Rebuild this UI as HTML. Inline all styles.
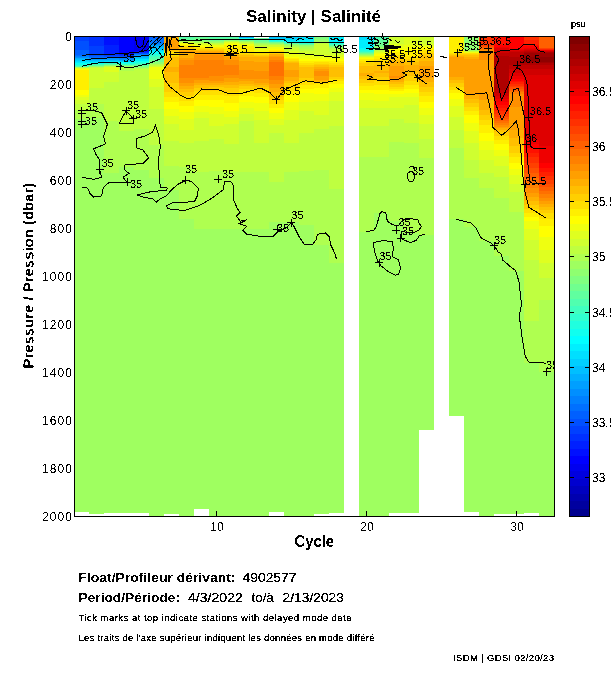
<!DOCTYPE html>
<html><head><meta charset="utf-8">
<style>
html,body{margin:0;padding:0;background:#fff;width:611px;height:675px;overflow:hidden}
svg{display:block}
text{font-family:"Liberation Sans",sans-serif;fill:#000;filter:url(#bin)}
.t12{font-size:12px} .t12 text, text.t12{filter:url(#bin2)}
.t9{font-size:9px}
.lab{font-size:11px} .lab text{filter:url(#bin2)}
.b{font-weight:bold;filter:url(#bin2)}
</style></head><body>
<svg width="611" height="675" viewBox="0 0 611 675">
<defs><filter id="bin" x="-5%" y="-5%" width="110%" height="110%"><feComponentTransfer><feFuncA type="discrete" tableValues="0 1 1"/></feComponentTransfer></filter><filter id="bin2" x="-5%" y="-5%" width="110%" height="110%"><feComponentTransfer><feFuncA type="discrete" tableValues="0 1"/></feComponentTransfer></filter></defs>
<rect width="611" height="675" fill="#fff"/>
<text x="246" y="22" textLength="135" lengthAdjust="spacingAndGlyphs" class="b" style="font-size:17px">Salinity | Salinité</text>
<g shape-rendering="crispEdges">
<rect x="74.0" y="36.0" width="15.0" height="5.0" fill="#0040ff"/>
<rect x="74.0" y="41.0" width="15.0" height="9.0" fill="#0050ff"/>
<rect x="74.0" y="50.0" width="15.0" height="5.0" fill="#0060ff"/>
<rect x="74.0" y="55.0" width="15.0" height="1.0" fill="#0070ff"/>
<rect x="74.0" y="56.0" width="15.0" height="1.0" fill="#0080ff"/>
<rect x="74.0" y="57.0" width="15.0" height="1.0" fill="#008fff"/>
<rect x="74.0" y="58.0" width="15.0" height="1.0" fill="#00afff"/>
<rect x="74.0" y="59.0" width="15.0" height="1.0" fill="#00bfff"/>
<rect x="74.0" y="60.0" width="15.0" height="1.0" fill="#00cfff"/>
<rect x="74.0" y="61.0" width="15.0" height="1.0" fill="#00dfff"/>
<rect x="74.0" y="62.0" width="15.0" height="1.0" fill="#00efff"/>
<rect x="74.0" y="63.0" width="15.0" height="2.0" fill="#10ffef"/>
<rect x="74.0" y="65.0" width="15.0" height="1.0" fill="#30ffcf"/>
<rect x="74.0" y="66.0" width="15.0" height="1.0" fill="#50ffaf"/>
<rect x="74.0" y="67.0" width="15.0" height="1.0" fill="#afff50"/>
<rect x="74.0" y="68.0" width="15.0" height="1.0" fill="#dfff20"/>
<rect x="74.0" y="69.0" width="15.0" height="1.0" fill="#ffff00"/>
<rect x="74.0" y="70.0" width="15.0" height="20.0" fill="#ffef00"/>
<rect x="74.0" y="90.0" width="15.0" height="5.0" fill="#ffff00"/>
<rect x="74.0" y="95.0" width="15.0" height="2.0" fill="#efff10"/>
<rect x="74.0" y="97.0" width="15.0" height="3.0" fill="#dfff20"/>
<rect x="74.0" y="100.0" width="15.0" height="4.0" fill="#cfff30"/>
<rect x="74.0" y="104.0" width="15.0" height="6.0" fill="#bfff40"/>
<rect x="74.0" y="110.0" width="15.0" height="9.0" fill="#afff50"/>
<rect x="74.0" y="119.0" width="15.0" height="393.0" fill="#9fff60"/>
<rect x="89.0" y="36.0" width="15.0" height="10.0" fill="#0030ff"/>
<rect x="89.0" y="46.0" width="15.0" height="9.0" fill="#0040ff"/>
<rect x="89.0" y="55.0" width="15.0" height="1.0" fill="#0050ff"/>
<rect x="89.0" y="56.0" width="15.0" height="1.0" fill="#0060ff"/>
<rect x="89.0" y="57.0" width="15.0" height="1.0" fill="#0070ff"/>
<rect x="89.0" y="58.0" width="15.0" height="1.0" fill="#008fff"/>
<rect x="89.0" y="59.0" width="15.0" height="1.0" fill="#009fff"/>
<rect x="89.0" y="60.0" width="15.0" height="1.0" fill="#00bfff"/>
<rect x="89.0" y="61.0" width="15.0" height="1.0" fill="#00cfff"/>
<rect x="89.0" y="62.0" width="15.0" height="1.0" fill="#00efff"/>
<rect x="89.0" y="63.0" width="15.0" height="1.0" fill="#10ffef"/>
<rect x="89.0" y="64.0" width="15.0" height="1.0" fill="#40ffbf"/>
<rect x="89.0" y="65.0" width="15.0" height="1.0" fill="#60ff9f"/>
<rect x="89.0" y="66.0" width="15.0" height="1.0" fill="#8fff70"/>
<rect x="89.0" y="67.0" width="15.0" height="1.0" fill="#bfff40"/>
<rect x="89.0" y="68.0" width="15.0" height="20.0" fill="#cfff30"/>
<rect x="89.0" y="88.0" width="15.0" height="16.0" fill="#bfff40"/>
<rect x="89.0" y="104.0" width="15.0" height="14.0" fill="#afff50"/>
<rect x="89.0" y="118.0" width="15.0" height="396.0" fill="#9fff60"/>
<rect x="104.0" y="36.0" width="15.0" height="9.0" fill="#0010ff"/>
<rect x="104.0" y="45.0" width="15.0" height="9.0" fill="#0020ff"/>
<rect x="104.0" y="54.0" width="15.0" height="1.0" fill="#0030ff"/>
<rect x="104.0" y="55.0" width="15.0" height="1.0" fill="#0040ff"/>
<rect x="104.0" y="56.0" width="15.0" height="1.0" fill="#0050ff"/>
<rect x="104.0" y="57.0" width="15.0" height="1.0" fill="#0070ff"/>
<rect x="104.0" y="58.0" width="15.0" height="1.0" fill="#008fff"/>
<rect x="104.0" y="59.0" width="15.0" height="1.0" fill="#009fff"/>
<rect x="104.0" y="60.0" width="15.0" height="1.0" fill="#00bfff"/>
<rect x="104.0" y="61.0" width="15.0" height="1.0" fill="#00dfff"/>
<rect x="104.0" y="62.0" width="15.0" height="1.0" fill="#00ffff"/>
<rect x="104.0" y="63.0" width="15.0" height="1.0" fill="#30ffcf"/>
<rect x="104.0" y="64.0" width="15.0" height="1.0" fill="#60ff9f"/>
<rect x="104.0" y="65.0" width="15.0" height="1.0" fill="#8fff70"/>
<rect x="104.0" y="66.0" width="15.0" height="1.0" fill="#bfff40"/>
<rect x="104.0" y="67.0" width="15.0" height="5.0" fill="#dfff20"/>
<rect x="104.0" y="72.0" width="15.0" height="10.0" fill="#cfff30"/>
<rect x="104.0" y="82.0" width="15.0" height="39.0" fill="#bfff40"/>
<rect x="104.0" y="121.0" width="15.0" height="52.0" fill="#afff50"/>
<rect x="104.0" y="173.0" width="15.0" height="340.0" fill="#9fff60"/>
<rect x="119.0" y="36.0" width="15.0" height="17.0" fill="#0000ff"/>
<rect x="119.0" y="53.0" width="15.0" height="1.0" fill="#0010ff"/>
<rect x="119.0" y="54.0" width="15.0" height="1.0" fill="#0020ff"/>
<rect x="119.0" y="55.0" width="15.0" height="1.0" fill="#0030ff"/>
<rect x="119.0" y="56.0" width="15.0" height="1.0" fill="#0050ff"/>
<rect x="119.0" y="57.0" width="15.0" height="1.0" fill="#0060ff"/>
<rect x="119.0" y="58.0" width="15.0" height="1.0" fill="#0080ff"/>
<rect x="119.0" y="59.0" width="15.0" height="1.0" fill="#008fff"/>
<rect x="119.0" y="60.0" width="15.0" height="1.0" fill="#00afff"/>
<rect x="119.0" y="61.0" width="15.0" height="1.0" fill="#00cfff"/>
<rect x="119.0" y="62.0" width="15.0" height="1.0" fill="#00ffff"/>
<rect x="119.0" y="63.0" width="15.0" height="1.0" fill="#20ffdf"/>
<rect x="119.0" y="64.0" width="15.0" height="1.0" fill="#40ffbf"/>
<rect x="119.0" y="65.0" width="15.0" height="1.0" fill="#70ff8f"/>
<rect x="119.0" y="66.0" width="15.0" height="1.0" fill="#9fff60"/>
<rect x="119.0" y="67.0" width="15.0" height="4.0" fill="#afff50"/>
<rect x="119.0" y="71.0" width="15.0" height="60.0" fill="#bfff40"/>
<rect x="119.0" y="131.0" width="15.0" height="36.0" fill="#afff50"/>
<rect x="119.0" y="167.0" width="15.0" height="346.0" fill="#9fff60"/>
<rect x="134.0" y="36.0" width="15.0" height="15.0" fill="#0000ef"/>
<rect x="134.0" y="51.0" width="15.0" height="1.0" fill="#0010ff"/>
<rect x="134.0" y="52.0" width="15.0" height="1.0" fill="#0030ff"/>
<rect x="134.0" y="53.0" width="15.0" height="1.0" fill="#0050ff"/>
<rect x="134.0" y="54.0" width="15.0" height="1.0" fill="#0080ff"/>
<rect x="134.0" y="55.0" width="15.0" height="1.0" fill="#009fff"/>
<rect x="134.0" y="56.0" width="15.0" height="1.0" fill="#00afff"/>
<rect x="134.0" y="57.0" width="15.0" height="1.0" fill="#00bfff"/>
<rect x="134.0" y="58.0" width="15.0" height="1.0" fill="#00cfff"/>
<rect x="134.0" y="59.0" width="15.0" height="2.0" fill="#00efff"/>
<rect x="134.0" y="61.0" width="15.0" height="1.0" fill="#10ffef"/>
<rect x="134.0" y="62.0" width="15.0" height="1.0" fill="#20ffdf"/>
<rect x="134.0" y="63.0" width="15.0" height="1.0" fill="#30ffcf"/>
<rect x="134.0" y="64.0" width="15.0" height="1.0" fill="#50ffaf"/>
<rect x="134.0" y="65.0" width="15.0" height="1.0" fill="#60ff9f"/>
<rect x="134.0" y="66.0" width="15.0" height="1.0" fill="#80ff80"/>
<rect x="134.0" y="67.0" width="15.0" height="1.0" fill="#8fff70"/>
<rect x="134.0" y="68.0" width="15.0" height="1.0" fill="#afff50"/>
<rect x="134.0" y="69.0" width="15.0" height="60.0" fill="#bfff40"/>
<rect x="134.0" y="129.0" width="15.0" height="41.0" fill="#afff50"/>
<rect x="134.0" y="170.0" width="15.0" height="343.0" fill="#9fff60"/>
<rect x="149.0" y="36.0" width="15.0" height="3.0" fill="#0060ff"/>
<rect x="149.0" y="39.0" width="15.0" height="4.0" fill="#0070ff"/>
<rect x="149.0" y="43.0" width="15.0" height="1.0" fill="#0080ff"/>
<rect x="149.0" y="44.0" width="15.0" height="1.0" fill="#008fff"/>
<rect x="149.0" y="45.0" width="15.0" height="1.0" fill="#009fff"/>
<rect x="149.0" y="46.0" width="15.0" height="1.0" fill="#00afff"/>
<rect x="149.0" y="47.0" width="15.0" height="2.0" fill="#00bfff"/>
<rect x="149.0" y="49.0" width="15.0" height="1.0" fill="#00cfff"/>
<rect x="149.0" y="50.0" width="15.0" height="1.0" fill="#00dfff"/>
<rect x="149.0" y="51.0" width="15.0" height="1.0" fill="#00efff"/>
<rect x="149.0" y="52.0" width="15.0" height="1.0" fill="#00ffff"/>
<rect x="149.0" y="53.0" width="15.0" height="1.0" fill="#10ffef"/>
<rect x="149.0" y="54.0" width="15.0" height="1.0" fill="#20ffdf"/>
<rect x="149.0" y="55.0" width="15.0" height="1.0" fill="#30ffcf"/>
<rect x="149.0" y="56.0" width="15.0" height="1.0" fill="#40ffbf"/>
<rect x="149.0" y="57.0" width="15.0" height="2.0" fill="#50ffaf"/>
<rect x="149.0" y="59.0" width="15.0" height="1.0" fill="#60ff9f"/>
<rect x="149.0" y="60.0" width="15.0" height="2.0" fill="#70ff8f"/>
<rect x="149.0" y="62.0" width="15.0" height="2.0" fill="#8fff70"/>
<rect x="149.0" y="64.0" width="15.0" height="1.0" fill="#afff50"/>
<rect x="149.0" y="65.0" width="15.0" height="1.0" fill="#bfff40"/>
<rect x="149.0" y="66.0" width="15.0" height="1.0" fill="#cfff30"/>
<rect x="149.0" y="67.0" width="15.0" height="12.0" fill="#efff10"/>
<rect x="149.0" y="79.0" width="15.0" height="8.0" fill="#dfff20"/>
<rect x="149.0" y="87.0" width="15.0" height="22.0" fill="#cfff30"/>
<rect x="149.0" y="109.0" width="15.0" height="36.0" fill="#bfff40"/>
<rect x="149.0" y="145.0" width="15.0" height="33.0" fill="#afff50"/>
<rect x="149.0" y="178.0" width="15.0" height="338.0" fill="#9fff60"/>
<rect x="164.0" y="36.0" width="15.0" height="4.0" fill="#ffaf00"/>
<rect x="164.0" y="40.0" width="15.0" height="9.0" fill="#ff9f00"/>
<rect x="164.0" y="49.0" width="15.0" height="1.0" fill="#ffaf00"/>
<rect x="164.0" y="50.0" width="15.0" height="1.0" fill="#ffbf00"/>
<rect x="164.0" y="51.0" width="15.0" height="1.0" fill="#ffcf00"/>
<rect x="164.0" y="52.0" width="15.0" height="4.0" fill="#ffdf00"/>
<rect x="164.0" y="56.0" width="15.0" height="1.0" fill="#ffcf00"/>
<rect x="164.0" y="57.0" width="15.0" height="10.0" fill="#ffbf00"/>
<rect x="164.0" y="67.0" width="15.0" height="5.0" fill="#ffaf00"/>
<rect x="164.0" y="72.0" width="15.0" height="11.0" fill="#ffbf00"/>
<rect x="164.0" y="83.0" width="15.0" height="9.0" fill="#ffcf00"/>
<rect x="164.0" y="92.0" width="15.0" height="5.0" fill="#ffdf00"/>
<rect x="164.0" y="97.0" width="15.0" height="5.0" fill="#ffef00"/>
<rect x="164.0" y="102.0" width="15.0" height="7.0" fill="#ffff00"/>
<rect x="164.0" y="109.0" width="15.0" height="7.0" fill="#efff10"/>
<rect x="164.0" y="116.0" width="15.0" height="8.0" fill="#dfff20"/>
<rect x="164.0" y="124.0" width="15.0" height="17.0" fill="#cfff30"/>
<rect x="164.0" y="141.0" width="15.0" height="25.0" fill="#bfff40"/>
<rect x="164.0" y="166.0" width="15.0" height="24.0" fill="#afff50"/>
<rect x="164.0" y="190.0" width="15.0" height="324.0" fill="#9fff60"/>
<rect x="179.0" y="36.0" width="15.0" height="2.0" fill="#50ffaf"/>
<rect x="179.0" y="38.0" width="15.0" height="2.0" fill="#60ff9f"/>
<rect x="179.0" y="40.0" width="15.0" height="1.0" fill="#70ff8f"/>
<rect x="179.0" y="41.0" width="15.0" height="1.0" fill="#afff50"/>
<rect x="179.0" y="42.0" width="15.0" height="1.0" fill="#cfff30"/>
<rect x="179.0" y="43.0" width="15.0" height="1.0" fill="#efff10"/>
<rect x="179.0" y="44.0" width="15.0" height="1.0" fill="#ffff00"/>
<rect x="179.0" y="45.0" width="15.0" height="1.0" fill="#ffef00"/>
<rect x="179.0" y="46.0" width="15.0" height="1.0" fill="#ffdf00"/>
<rect x="179.0" y="47.0" width="15.0" height="2.0" fill="#ffcf00"/>
<rect x="179.0" y="49.0" width="15.0" height="2.0" fill="#ffaf00"/>
<rect x="179.0" y="51.0" width="15.0" height="2.0" fill="#ff9f00"/>
<rect x="179.0" y="53.0" width="15.0" height="5.0" fill="#ffaf00"/>
<rect x="179.0" y="58.0" width="15.0" height="2.0" fill="#ff9f00"/>
<rect x="179.0" y="60.0" width="15.0" height="5.0" fill="#ff8f00"/>
<rect x="179.0" y="65.0" width="15.0" height="13.0" fill="#ff8000"/>
<rect x="179.0" y="78.0" width="15.0" height="5.0" fill="#ff8f00"/>
<rect x="179.0" y="83.0" width="15.0" height="3.0" fill="#ff9f00"/>
<rect x="179.0" y="86.0" width="15.0" height="3.0" fill="#ffaf00"/>
<rect x="179.0" y="89.0" width="15.0" height="3.0" fill="#ffbf00"/>
<rect x="179.0" y="92.0" width="15.0" height="4.0" fill="#ffcf00"/>
<rect x="179.0" y="96.0" width="15.0" height="5.0" fill="#ffdf00"/>
<rect x="179.0" y="101.0" width="15.0" height="5.0" fill="#ffef00"/>
<rect x="179.0" y="106.0" width="15.0" height="6.0" fill="#ffff00"/>
<rect x="179.0" y="112.0" width="15.0" height="7.0" fill="#efff10"/>
<rect x="179.0" y="119.0" width="15.0" height="11.0" fill="#dfff20"/>
<rect x="179.0" y="130.0" width="15.0" height="13.0" fill="#cfff30"/>
<rect x="179.0" y="143.0" width="15.0" height="24.0" fill="#bfff40"/>
<rect x="179.0" y="167.0" width="15.0" height="52.0" fill="#afff50"/>
<rect x="179.0" y="219.0" width="15.0" height="297.0" fill="#9fff60"/>
<rect x="194.0" y="36.0" width="15.0" height="2.0" fill="#60ff9f"/>
<rect x="194.0" y="38.0" width="15.0" height="2.0" fill="#70ff8f"/>
<rect x="194.0" y="40.0" width="15.0" height="1.0" fill="#80ff80"/>
<rect x="194.0" y="41.0" width="15.0" height="1.0" fill="#9fff60"/>
<rect x="194.0" y="42.0" width="15.0" height="1.0" fill="#afff50"/>
<rect x="194.0" y="43.0" width="15.0" height="1.0" fill="#cfff30"/>
<rect x="194.0" y="44.0" width="15.0" height="1.0" fill="#dfff20"/>
<rect x="194.0" y="45.0" width="15.0" height="1.0" fill="#efff10"/>
<rect x="194.0" y="46.0" width="15.0" height="1.0" fill="#ffff00"/>
<rect x="194.0" y="47.0" width="15.0" height="1.0" fill="#ffef00"/>
<rect x="194.0" y="48.0" width="15.0" height="1.0" fill="#ffdf00"/>
<rect x="194.0" y="49.0" width="15.0" height="1.0" fill="#ffcf00"/>
<rect x="194.0" y="50.0" width="15.0" height="1.0" fill="#ffbf00"/>
<rect x="194.0" y="51.0" width="15.0" height="1.0" fill="#ffaf00"/>
<rect x="194.0" y="52.0" width="15.0" height="3.0" fill="#ff9f00"/>
<rect x="194.0" y="55.0" width="15.0" height="5.0" fill="#ff8f00"/>
<rect x="194.0" y="60.0" width="15.0" height="18.0" fill="#ff8000"/>
<rect x="194.0" y="78.0" width="15.0" height="2.0" fill="#ff8f00"/>
<rect x="194.0" y="80.0" width="15.0" height="3.0" fill="#ff9f00"/>
<rect x="194.0" y="83.0" width="15.0" height="2.0" fill="#ffaf00"/>
<rect x="194.0" y="85.0" width="15.0" height="3.0" fill="#ffbf00"/>
<rect x="194.0" y="88.0" width="15.0" height="3.0" fill="#ffcf00"/>
<rect x="194.0" y="91.0" width="15.0" height="4.0" fill="#ffdf00"/>
<rect x="194.0" y="95.0" width="15.0" height="5.0" fill="#ffef00"/>
<rect x="194.0" y="100.0" width="15.0" height="6.0" fill="#ffff00"/>
<rect x="194.0" y="106.0" width="15.0" height="6.0" fill="#efff10"/>
<rect x="194.0" y="112.0" width="15.0" height="6.0" fill="#dfff20"/>
<rect x="194.0" y="118.0" width="15.0" height="23.0" fill="#cfff30"/>
<rect x="194.0" y="141.0" width="15.0" height="31.0" fill="#bfff40"/>
<rect x="194.0" y="172.0" width="15.0" height="57.0" fill="#afff50"/>
<rect x="194.0" y="229.0" width="15.0" height="280.0" fill="#9fff60"/>
<rect x="209.0" y="36.0" width="15.0" height="2.0" fill="#50ffaf"/>
<rect x="209.0" y="38.0" width="15.0" height="2.0" fill="#60ff9f"/>
<rect x="209.0" y="40.0" width="15.0" height="1.0" fill="#70ff8f"/>
<rect x="209.0" y="41.0" width="15.0" height="1.0" fill="#8fff70"/>
<rect x="209.0" y="42.0" width="15.0" height="1.0" fill="#9fff60"/>
<rect x="209.0" y="43.0" width="15.0" height="1.0" fill="#bfff40"/>
<rect x="209.0" y="44.0" width="15.0" height="1.0" fill="#cfff30"/>
<rect x="209.0" y="45.0" width="15.0" height="2.0" fill="#efff10"/>
<rect x="209.0" y="47.0" width="15.0" height="1.0" fill="#ffef00"/>
<rect x="209.0" y="48.0" width="15.0" height="1.0" fill="#ffdf00"/>
<rect x="209.0" y="49.0" width="15.0" height="1.0" fill="#ffcf00"/>
<rect x="209.0" y="50.0" width="15.0" height="1.0" fill="#ffbf00"/>
<rect x="209.0" y="51.0" width="15.0" height="1.0" fill="#ffaf00"/>
<rect x="209.0" y="52.0" width="15.0" height="3.0" fill="#ff9f00"/>
<rect x="209.0" y="55.0" width="15.0" height="5.0" fill="#ff8f00"/>
<rect x="209.0" y="60.0" width="15.0" height="16.0" fill="#ff8000"/>
<rect x="209.0" y="76.0" width="15.0" height="5.0" fill="#ff8f00"/>
<rect x="209.0" y="81.0" width="15.0" height="2.0" fill="#ff9f00"/>
<rect x="209.0" y="83.0" width="15.0" height="2.0" fill="#ffaf00"/>
<rect x="209.0" y="85.0" width="15.0" height="2.0" fill="#ffbf00"/>
<rect x="209.0" y="87.0" width="15.0" height="4.0" fill="#ffcf00"/>
<rect x="209.0" y="91.0" width="15.0" height="4.0" fill="#ffdf00"/>
<rect x="209.0" y="95.0" width="15.0" height="5.0" fill="#ffef00"/>
<rect x="209.0" y="100.0" width="15.0" height="7.0" fill="#ffff00"/>
<rect x="209.0" y="107.0" width="15.0" height="7.0" fill="#efff10"/>
<rect x="209.0" y="114.0" width="15.0" height="12.0" fill="#dfff20"/>
<rect x="209.0" y="126.0" width="15.0" height="13.0" fill="#cfff30"/>
<rect x="209.0" y="139.0" width="15.0" height="32.0" fill="#bfff40"/>
<rect x="209.0" y="171.0" width="15.0" height="58.0" fill="#afff50"/>
<rect x="209.0" y="229.0" width="15.0" height="287.0" fill="#9fff60"/>
<rect x="224.0" y="36.0" width="15.0" height="2.0" fill="#50ffaf"/>
<rect x="224.0" y="38.0" width="15.0" height="1.0" fill="#60ff9f"/>
<rect x="224.0" y="39.0" width="15.0" height="1.0" fill="#70ff8f"/>
<rect x="224.0" y="40.0" width="15.0" height="1.0" fill="#8fff70"/>
<rect x="224.0" y="41.0" width="15.0" height="1.0" fill="#bfff40"/>
<rect x="224.0" y="42.0" width="15.0" height="1.0" fill="#dfff20"/>
<rect x="224.0" y="43.0" width="15.0" height="1.0" fill="#efff10"/>
<rect x="224.0" y="44.0" width="15.0" height="1.0" fill="#ffff00"/>
<rect x="224.0" y="45.0" width="15.0" height="4.0" fill="#ffef00"/>
<rect x="224.0" y="49.0" width="15.0" height="3.0" fill="#ffdf00"/>
<rect x="224.0" y="52.0" width="15.0" height="2.0" fill="#ffcf00"/>
<rect x="224.0" y="54.0" width="15.0" height="1.0" fill="#ffbf00"/>
<rect x="224.0" y="55.0" width="15.0" height="2.0" fill="#ffaf00"/>
<rect x="224.0" y="57.0" width="15.0" height="3.0" fill="#ff9f00"/>
<rect x="224.0" y="60.0" width="15.0" height="5.0" fill="#ff8f00"/>
<rect x="224.0" y="65.0" width="15.0" height="10.0" fill="#ff8000"/>
<rect x="224.0" y="75.0" width="15.0" height="3.0" fill="#ff8f00"/>
<rect x="224.0" y="78.0" width="15.0" height="4.0" fill="#ff9f00"/>
<rect x="224.0" y="82.0" width="15.0" height="3.0" fill="#ffaf00"/>
<rect x="224.0" y="85.0" width="15.0" height="3.0" fill="#ffbf00"/>
<rect x="224.0" y="88.0" width="15.0" height="4.0" fill="#ffcf00"/>
<rect x="224.0" y="92.0" width="15.0" height="4.0" fill="#ffdf00"/>
<rect x="224.0" y="96.0" width="15.0" height="7.0" fill="#ffef00"/>
<rect x="224.0" y="103.0" width="15.0" height="8.0" fill="#ffff00"/>
<rect x="224.0" y="111.0" width="15.0" height="6.0" fill="#efff10"/>
<rect x="224.0" y="117.0" width="15.0" height="7.0" fill="#dfff20"/>
<rect x="224.0" y="124.0" width="15.0" height="20.0" fill="#cfff30"/>
<rect x="224.0" y="144.0" width="15.0" height="28.0" fill="#bfff40"/>
<rect x="224.0" y="172.0" width="15.0" height="57.0" fill="#afff50"/>
<rect x="224.0" y="229.0" width="15.0" height="287.0" fill="#9fff60"/>
<rect x="239.0" y="36.0" width="15.0" height="1.0" fill="#0070ff"/>
<rect x="239.0" y="37.0" width="15.0" height="1.0" fill="#00afff"/>
<rect x="239.0" y="38.0" width="15.0" height="1.0" fill="#10ffef"/>
<rect x="239.0" y="39.0" width="15.0" height="1.0" fill="#50ffaf"/>
<rect x="239.0" y="40.0" width="15.0" height="1.0" fill="#70ff8f"/>
<rect x="239.0" y="41.0" width="15.0" height="1.0" fill="#9fff60"/>
<rect x="239.0" y="42.0" width="15.0" height="1.0" fill="#bfff40"/>
<rect x="239.0" y="43.0" width="15.0" height="1.0" fill="#cfff30"/>
<rect x="239.0" y="44.0" width="15.0" height="2.0" fill="#efff10"/>
<rect x="239.0" y="46.0" width="15.0" height="7.0" fill="#ffef00"/>
<rect x="239.0" y="53.0" width="15.0" height="1.0" fill="#ffdf00"/>
<rect x="239.0" y="54.0" width="15.0" height="1.0" fill="#ffcf00"/>
<rect x="239.0" y="55.0" width="15.0" height="2.0" fill="#ffbf00"/>
<rect x="239.0" y="57.0" width="15.0" height="4.0" fill="#ffaf00"/>
<rect x="239.0" y="61.0" width="15.0" height="9.0" fill="#ff9f00"/>
<rect x="239.0" y="70.0" width="15.0" height="9.0" fill="#ff8f00"/>
<rect x="239.0" y="79.0" width="15.0" height="2.0" fill="#ff9f00"/>
<rect x="239.0" y="81.0" width="15.0" height="3.0" fill="#ffaf00"/>
<rect x="239.0" y="84.0" width="15.0" height="2.0" fill="#ffbf00"/>
<rect x="239.0" y="86.0" width="15.0" height="3.0" fill="#ffcf00"/>
<rect x="239.0" y="89.0" width="15.0" height="3.0" fill="#ffdf00"/>
<rect x="239.0" y="92.0" width="15.0" height="4.0" fill="#ffef00"/>
<rect x="239.0" y="96.0" width="15.0" height="6.0" fill="#ffff00"/>
<rect x="239.0" y="102.0" width="15.0" height="6.0" fill="#efff10"/>
<rect x="239.0" y="108.0" width="15.0" height="6.0" fill="#dfff20"/>
<rect x="239.0" y="114.0" width="15.0" height="7.0" fill="#cfff30"/>
<rect x="239.0" y="121.0" width="15.0" height="51.0" fill="#bfff40"/>
<rect x="239.0" y="172.0" width="15.0" height="57.0" fill="#afff50"/>
<rect x="239.0" y="229.0" width="15.0" height="287.0" fill="#9fff60"/>
<rect x="254.0" y="36.0" width="15.0" height="5.0" fill="#60ff9f"/>
<rect x="254.0" y="41.0" width="15.0" height="1.0" fill="#70ff8f"/>
<rect x="254.0" y="42.0" width="15.0" height="1.0" fill="#80ff80"/>
<rect x="254.0" y="43.0" width="15.0" height="1.0" fill="#9fff60"/>
<rect x="254.0" y="44.0" width="15.0" height="1.0" fill="#afff50"/>
<rect x="254.0" y="45.0" width="15.0" height="1.0" fill="#bfff40"/>
<rect x="254.0" y="46.0" width="15.0" height="2.0" fill="#cfff30"/>
<rect x="254.0" y="48.0" width="15.0" height="1.0" fill="#dfff20"/>
<rect x="254.0" y="49.0" width="15.0" height="2.0" fill="#efff10"/>
<rect x="254.0" y="51.0" width="15.0" height="1.0" fill="#ffff00"/>
<rect x="254.0" y="52.0" width="15.0" height="1.0" fill="#ffef00"/>
<rect x="254.0" y="53.0" width="15.0" height="2.0" fill="#ffdf00"/>
<rect x="254.0" y="55.0" width="15.0" height="1.0" fill="#ffcf00"/>
<rect x="254.0" y="56.0" width="15.0" height="1.0" fill="#ffbf00"/>
<rect x="254.0" y="57.0" width="15.0" height="5.0" fill="#ffaf00"/>
<rect x="254.0" y="62.0" width="15.0" height="9.0" fill="#ff9f00"/>
<rect x="254.0" y="71.0" width="15.0" height="8.0" fill="#ff8f00"/>
<rect x="254.0" y="79.0" width="15.0" height="4.0" fill="#ff9f00"/>
<rect x="254.0" y="83.0" width="15.0" height="2.0" fill="#ffaf00"/>
<rect x="254.0" y="85.0" width="15.0" height="2.0" fill="#ffbf00"/>
<rect x="254.0" y="87.0" width="15.0" height="2.0" fill="#ffcf00"/>
<rect x="254.0" y="89.0" width="15.0" height="4.0" fill="#ffdf00"/>
<rect x="254.0" y="93.0" width="15.0" height="4.0" fill="#ffef00"/>
<rect x="254.0" y="97.0" width="15.0" height="6.0" fill="#ffff00"/>
<rect x="254.0" y="103.0" width="15.0" height="8.0" fill="#efff10"/>
<rect x="254.0" y="111.0" width="15.0" height="9.0" fill="#dfff20"/>
<rect x="254.0" y="120.0" width="15.0" height="23.0" fill="#cfff30"/>
<rect x="254.0" y="143.0" width="15.0" height="29.0" fill="#bfff40"/>
<rect x="254.0" y="172.0" width="15.0" height="57.0" fill="#afff50"/>
<rect x="254.0" y="229.0" width="15.0" height="287.0" fill="#9fff60"/>
<rect x="269.0" y="36.0" width="15.0" height="1.0" fill="#009fff"/>
<rect x="269.0" y="37.0" width="15.0" height="1.0" fill="#00bfff"/>
<rect x="269.0" y="38.0" width="15.0" height="1.0" fill="#00cfff"/>
<rect x="269.0" y="39.0" width="15.0" height="1.0" fill="#00dfff"/>
<rect x="269.0" y="40.0" width="15.0" height="1.0" fill="#10ffef"/>
<rect x="269.0" y="41.0" width="15.0" height="1.0" fill="#30ffcf"/>
<rect x="269.0" y="42.0" width="15.0" height="1.0" fill="#70ff8f"/>
<rect x="269.0" y="43.0" width="15.0" height="1.0" fill="#8fff70"/>
<rect x="269.0" y="44.0" width="15.0" height="1.0" fill="#afff50"/>
<rect x="269.0" y="45.0" width="15.0" height="2.0" fill="#cfff30"/>
<rect x="269.0" y="47.0" width="15.0" height="2.0" fill="#efff10"/>
<rect x="269.0" y="49.0" width="15.0" height="1.0" fill="#ffff00"/>
<rect x="269.0" y="50.0" width="15.0" height="1.0" fill="#ffef00"/>
<rect x="269.0" y="51.0" width="15.0" height="1.0" fill="#ffdf00"/>
<rect x="269.0" y="52.0" width="15.0" height="2.0" fill="#ffcf00"/>
<rect x="269.0" y="54.0" width="15.0" height="2.0" fill="#ffaf00"/>
<rect x="269.0" y="56.0" width="15.0" height="1.0" fill="#ff9f00"/>
<rect x="269.0" y="57.0" width="15.0" height="3.0" fill="#ff8f00"/>
<rect x="269.0" y="60.0" width="15.0" height="2.0" fill="#ff8000"/>
<rect x="269.0" y="62.0" width="15.0" height="14.0" fill="#ff7000"/>
<rect x="269.0" y="76.0" width="15.0" height="4.0" fill="#ff8000"/>
<rect x="269.0" y="80.0" width="15.0" height="4.0" fill="#ff8f00"/>
<rect x="269.0" y="84.0" width="15.0" height="4.0" fill="#ff9f00"/>
<rect x="269.0" y="88.0" width="15.0" height="4.0" fill="#ffaf00"/>
<rect x="269.0" y="92.0" width="15.0" height="5.0" fill="#ffbf00"/>
<rect x="269.0" y="97.0" width="15.0" height="3.0" fill="#ffcf00"/>
<rect x="269.0" y="100.0" width="15.0" height="4.0" fill="#ffdf00"/>
<rect x="269.0" y="104.0" width="15.0" height="4.0" fill="#ffef00"/>
<rect x="269.0" y="108.0" width="15.0" height="5.0" fill="#ffff00"/>
<rect x="269.0" y="113.0" width="15.0" height="6.0" fill="#efff10"/>
<rect x="269.0" y="119.0" width="15.0" height="6.0" fill="#dfff20"/>
<rect x="269.0" y="125.0" width="15.0" height="8.0" fill="#cfff30"/>
<rect x="269.0" y="133.0" width="15.0" height="49.0" fill="#bfff40"/>
<rect x="269.0" y="182.0" width="15.0" height="40.0" fill="#afff50"/>
<rect x="269.0" y="222.0" width="15.0" height="290.0" fill="#9fff60"/>
<rect x="284.0" y="36.0" width="15.0" height="3.0" fill="#00cfff"/>
<rect x="284.0" y="39.0" width="15.0" height="2.0" fill="#00dfff"/>
<rect x="284.0" y="41.0" width="15.0" height="1.0" fill="#00efff"/>
<rect x="284.0" y="42.0" width="15.0" height="1.0" fill="#30ffcf"/>
<rect x="284.0" y="43.0" width="15.0" height="1.0" fill="#50ffaf"/>
<rect x="284.0" y="44.0" width="15.0" height="1.0" fill="#8fff70"/>
<rect x="284.0" y="45.0" width="15.0" height="1.0" fill="#9fff60"/>
<rect x="284.0" y="46.0" width="15.0" height="1.0" fill="#afff50"/>
<rect x="284.0" y="47.0" width="15.0" height="1.0" fill="#bfff40"/>
<rect x="284.0" y="48.0" width="15.0" height="3.0" fill="#cfff30"/>
<rect x="284.0" y="51.0" width="15.0" height="3.0" fill="#dfff20"/>
<rect x="284.0" y="54.0" width="15.0" height="3.0" fill="#efff10"/>
<rect x="284.0" y="57.0" width="15.0" height="1.0" fill="#ffff00"/>
<rect x="284.0" y="58.0" width="15.0" height="1.0" fill="#ffef00"/>
<rect x="284.0" y="59.0" width="15.0" height="2.0" fill="#ffdf00"/>
<rect x="284.0" y="61.0" width="15.0" height="1.0" fill="#ffcf00"/>
<rect x="284.0" y="62.0" width="15.0" height="1.0" fill="#ffbf00"/>
<rect x="284.0" y="63.0" width="15.0" height="7.0" fill="#ffaf00"/>
<rect x="284.0" y="70.0" width="15.0" height="7.0" fill="#ff9f00"/>
<rect x="284.0" y="77.0" width="15.0" height="4.0" fill="#ffaf00"/>
<rect x="284.0" y="81.0" width="15.0" height="2.0" fill="#ffbf00"/>
<rect x="284.0" y="83.0" width="15.0" height="4.0" fill="#ffcf00"/>
<rect x="284.0" y="87.0" width="15.0" height="4.0" fill="#ffdf00"/>
<rect x="284.0" y="91.0" width="15.0" height="4.0" fill="#ffef00"/>
<rect x="284.0" y="95.0" width="15.0" height="7.0" fill="#ffff00"/>
<rect x="284.0" y="102.0" width="15.0" height="8.0" fill="#efff10"/>
<rect x="284.0" y="110.0" width="15.0" height="10.0" fill="#dfff20"/>
<rect x="284.0" y="120.0" width="15.0" height="23.0" fill="#cfff30"/>
<rect x="284.0" y="143.0" width="15.0" height="29.0" fill="#bfff40"/>
<rect x="284.0" y="172.0" width="15.0" height="50.0" fill="#afff50"/>
<rect x="284.0" y="222.0" width="15.0" height="294.0" fill="#9fff60"/>
<rect x="299.0" y="36.0" width="15.0" height="3.0" fill="#00dfff"/>
<rect x="299.0" y="39.0" width="15.0" height="3.0" fill="#00efff"/>
<rect x="299.0" y="42.0" width="15.0" height="1.0" fill="#00ffff"/>
<rect x="299.0" y="43.0" width="15.0" height="1.0" fill="#30ffcf"/>
<rect x="299.0" y="44.0" width="15.0" height="1.0" fill="#60ff9f"/>
<rect x="299.0" y="45.0" width="15.0" height="1.0" fill="#8fff70"/>
<rect x="299.0" y="46.0" width="15.0" height="1.0" fill="#9fff60"/>
<rect x="299.0" y="47.0" width="15.0" height="2.0" fill="#afff50"/>
<rect x="299.0" y="49.0" width="15.0" height="2.0" fill="#bfff40"/>
<rect x="299.0" y="51.0" width="15.0" height="3.0" fill="#cfff30"/>
<rect x="299.0" y="54.0" width="15.0" height="2.0" fill="#dfff20"/>
<rect x="299.0" y="56.0" width="15.0" height="3.0" fill="#efff10"/>
<rect x="299.0" y="59.0" width="15.0" height="2.0" fill="#ffff00"/>
<rect x="299.0" y="61.0" width="15.0" height="2.0" fill="#ffef00"/>
<rect x="299.0" y="63.0" width="15.0" height="2.0" fill="#ffdf00"/>
<rect x="299.0" y="65.0" width="15.0" height="2.0" fill="#ffcf00"/>
<rect x="299.0" y="67.0" width="15.0" height="11.0" fill="#ffbf00"/>
<rect x="299.0" y="78.0" width="15.0" height="3.0" fill="#ffcf00"/>
<rect x="299.0" y="81.0" width="15.0" height="4.0" fill="#ffdf00"/>
<rect x="299.0" y="85.0" width="15.0" height="4.0" fill="#ffef00"/>
<rect x="299.0" y="89.0" width="15.0" height="4.0" fill="#ffff00"/>
<rect x="299.0" y="93.0" width="15.0" height="9.0" fill="#efff10"/>
<rect x="299.0" y="102.0" width="15.0" height="9.0" fill="#dfff20"/>
<rect x="299.0" y="111.0" width="15.0" height="22.0" fill="#cfff30"/>
<rect x="299.0" y="133.0" width="15.0" height="38.0" fill="#bfff40"/>
<rect x="299.0" y="171.0" width="15.0" height="54.0" fill="#afff50"/>
<rect x="299.0" y="225.0" width="15.0" height="291.0" fill="#9fff60"/>
<rect x="314.0" y="36.0" width="15.0" height="1.0" fill="#70ff8f"/>
<rect x="314.0" y="37.0" width="15.0" height="2.0" fill="#80ff80"/>
<rect x="314.0" y="39.0" width="15.0" height="2.0" fill="#8fff70"/>
<rect x="314.0" y="41.0" width="15.0" height="1.0" fill="#9fff60"/>
<rect x="314.0" y="42.0" width="15.0" height="1.0" fill="#afff50"/>
<rect x="314.0" y="43.0" width="15.0" height="1.0" fill="#bfff40"/>
<rect x="314.0" y="44.0" width="15.0" height="11.0" fill="#cfff30"/>
<rect x="314.0" y="55.0" width="15.0" height="2.0" fill="#dfff20"/>
<rect x="314.0" y="57.0" width="15.0" height="2.0" fill="#efff10"/>
<rect x="314.0" y="59.0" width="15.0" height="2.0" fill="#ffff00"/>
<rect x="314.0" y="61.0" width="15.0" height="1.0" fill="#ffef00"/>
<rect x="314.0" y="62.0" width="15.0" height="2.0" fill="#ffdf00"/>
<rect x="314.0" y="64.0" width="15.0" height="1.0" fill="#ffcf00"/>
<rect x="314.0" y="65.0" width="15.0" height="2.0" fill="#ffbf00"/>
<rect x="314.0" y="67.0" width="15.0" height="2.0" fill="#ffaf00"/>
<rect x="314.0" y="69.0" width="15.0" height="2.0" fill="#ff9f00"/>
<rect x="314.0" y="71.0" width="15.0" height="5.0" fill="#ff8f00"/>
<rect x="314.0" y="76.0" width="15.0" height="4.0" fill="#ff9f00"/>
<rect x="314.0" y="80.0" width="15.0" height="1.0" fill="#ffaf00"/>
<rect x="314.0" y="81.0" width="15.0" height="1.0" fill="#ffbf00"/>
<rect x="314.0" y="82.0" width="15.0" height="1.0" fill="#ffcf00"/>
<rect x="314.0" y="83.0" width="15.0" height="1.0" fill="#ffdf00"/>
<rect x="314.0" y="84.0" width="15.0" height="4.0" fill="#ffef00"/>
<rect x="314.0" y="88.0" width="15.0" height="6.0" fill="#ffff00"/>
<rect x="314.0" y="94.0" width="15.0" height="7.0" fill="#efff10"/>
<rect x="314.0" y="101.0" width="15.0" height="14.0" fill="#dfff20"/>
<rect x="314.0" y="115.0" width="15.0" height="14.0" fill="#cfff30"/>
<rect x="314.0" y="129.0" width="15.0" height="41.0" fill="#bfff40"/>
<rect x="314.0" y="170.0" width="15.0" height="75.0" fill="#afff50"/>
<rect x="314.0" y="245.0" width="15.0" height="269.0" fill="#9fff60"/>
<rect x="329.0" y="36.0" width="15.0" height="6.0" fill="#00efff"/>
<rect x="329.0" y="42.0" width="15.0" height="1.0" fill="#00ffff"/>
<rect x="329.0" y="43.0" width="15.0" height="1.0" fill="#20ffdf"/>
<rect x="329.0" y="44.0" width="15.0" height="1.0" fill="#40ffbf"/>
<rect x="329.0" y="45.0" width="15.0" height="1.0" fill="#60ff9f"/>
<rect x="329.0" y="46.0" width="15.0" height="1.0" fill="#80ff80"/>
<rect x="329.0" y="47.0" width="15.0" height="1.0" fill="#9fff60"/>
<rect x="329.0" y="48.0" width="15.0" height="1.0" fill="#afff50"/>
<rect x="329.0" y="49.0" width="15.0" height="3.0" fill="#bfff40"/>
<rect x="329.0" y="52.0" width="15.0" height="3.0" fill="#cfff30"/>
<rect x="329.0" y="55.0" width="15.0" height="2.0" fill="#dfff20"/>
<rect x="329.0" y="57.0" width="15.0" height="2.0" fill="#efff10"/>
<rect x="329.0" y="59.0" width="15.0" height="2.0" fill="#ffff00"/>
<rect x="329.0" y="61.0" width="15.0" height="2.0" fill="#ffef00"/>
<rect x="329.0" y="63.0" width="15.0" height="2.0" fill="#ffdf00"/>
<rect x="329.0" y="65.0" width="15.0" height="2.0" fill="#ffcf00"/>
<rect x="329.0" y="67.0" width="15.0" height="10.0" fill="#ffbf00"/>
<rect x="329.0" y="77.0" width="15.0" height="2.0" fill="#ffcf00"/>
<rect x="329.0" y="79.0" width="15.0" height="2.0" fill="#ffdf00"/>
<rect x="329.0" y="81.0" width="15.0" height="3.0" fill="#ffef00"/>
<rect x="329.0" y="84.0" width="15.0" height="4.0" fill="#ffff00"/>
<rect x="329.0" y="88.0" width="15.0" height="4.0" fill="#efff10"/>
<rect x="329.0" y="92.0" width="15.0" height="9.0" fill="#dfff20"/>
<rect x="329.0" y="101.0" width="15.0" height="25.0" fill="#cfff30"/>
<rect x="329.0" y="126.0" width="15.0" height="63.0" fill="#bfff40"/>
<rect x="329.0" y="189.0" width="15.0" height="74.0" fill="#afff50"/>
<rect x="329.0" y="263.0" width="15.0" height="250.0" fill="#9fff60"/>
<rect x="359.0" y="36.0" width="15.0" height="4.0" fill="#00dfff"/>
<rect x="359.0" y="40.0" width="15.0" height="8.0" fill="#00efff"/>
<rect x="359.0" y="48.0" width="15.0" height="1.0" fill="#00ffff"/>
<rect x="359.0" y="49.0" width="15.0" height="1.0" fill="#10ffef"/>
<rect x="359.0" y="50.0" width="15.0" height="1.0" fill="#20ffdf"/>
<rect x="359.0" y="51.0" width="15.0" height="1.0" fill="#30ffcf"/>
<rect x="359.0" y="52.0" width="15.0" height="1.0" fill="#50ffaf"/>
<rect x="359.0" y="53.0" width="15.0" height="1.0" fill="#70ff8f"/>
<rect x="359.0" y="54.0" width="15.0" height="1.0" fill="#8fff70"/>
<rect x="359.0" y="55.0" width="15.0" height="1.0" fill="#afff50"/>
<rect x="359.0" y="56.0" width="15.0" height="1.0" fill="#cfff30"/>
<rect x="359.0" y="57.0" width="15.0" height="1.0" fill="#efff10"/>
<rect x="359.0" y="58.0" width="15.0" height="1.0" fill="#ffff00"/>
<rect x="359.0" y="59.0" width="15.0" height="2.0" fill="#ffef00"/>
<rect x="359.0" y="61.0" width="15.0" height="2.0" fill="#ffdf00"/>
<rect x="359.0" y="63.0" width="15.0" height="3.0" fill="#ffcf00"/>
<rect x="359.0" y="66.0" width="15.0" height="7.0" fill="#ffbf00"/>
<rect x="359.0" y="73.0" width="15.0" height="3.0" fill="#ffaf00"/>
<rect x="359.0" y="76.0" width="15.0" height="3.0" fill="#ffbf00"/>
<rect x="359.0" y="79.0" width="15.0" height="4.0" fill="#ffcf00"/>
<rect x="359.0" y="83.0" width="15.0" height="3.0" fill="#ffdf00"/>
<rect x="359.0" y="86.0" width="15.0" height="4.0" fill="#ffef00"/>
<rect x="359.0" y="90.0" width="15.0" height="3.0" fill="#ffff00"/>
<rect x="359.0" y="93.0" width="15.0" height="7.0" fill="#efff10"/>
<rect x="359.0" y="100.0" width="15.0" height="8.0" fill="#dfff20"/>
<rect x="359.0" y="108.0" width="15.0" height="18.0" fill="#cfff30"/>
<rect x="359.0" y="126.0" width="15.0" height="31.0" fill="#bfff40"/>
<rect x="359.0" y="157.0" width="15.0" height="75.0" fill="#afff50"/>
<rect x="359.0" y="232.0" width="15.0" height="284.0" fill="#9fff60"/>
<rect x="374.0" y="36.0" width="15.0" height="3.0" fill="#50ffaf"/>
<rect x="374.0" y="39.0" width="15.0" height="4.0" fill="#60ff9f"/>
<rect x="374.0" y="43.0" width="15.0" height="3.0" fill="#70ff8f"/>
<rect x="374.0" y="46.0" width="15.0" height="1.0" fill="#80ff80"/>
<rect x="374.0" y="47.0" width="15.0" height="1.0" fill="#8fff70"/>
<rect x="374.0" y="48.0" width="15.0" height="1.0" fill="#9fff60"/>
<rect x="374.0" y="49.0" width="15.0" height="1.0" fill="#afff50"/>
<rect x="374.0" y="50.0" width="15.0" height="1.0" fill="#bfff40"/>
<rect x="374.0" y="51.0" width="15.0" height="1.0" fill="#cfff30"/>
<rect x="374.0" y="52.0" width="15.0" height="1.0" fill="#dfff20"/>
<rect x="374.0" y="53.0" width="15.0" height="1.0" fill="#efff10"/>
<rect x="374.0" y="54.0" width="15.0" height="2.0" fill="#ffff00"/>
<rect x="374.0" y="56.0" width="15.0" height="3.0" fill="#ffef00"/>
<rect x="374.0" y="59.0" width="15.0" height="2.0" fill="#ffdf00"/>
<rect x="374.0" y="61.0" width="15.0" height="4.0" fill="#ffcf00"/>
<rect x="374.0" y="65.0" width="15.0" height="6.0" fill="#ffbf00"/>
<rect x="374.0" y="71.0" width="15.0" height="2.0" fill="#ffaf00"/>
<rect x="374.0" y="73.0" width="15.0" height="4.0" fill="#ffbf00"/>
<rect x="374.0" y="77.0" width="15.0" height="4.0" fill="#ffcf00"/>
<rect x="374.0" y="81.0" width="15.0" height="4.0" fill="#ffdf00"/>
<rect x="374.0" y="85.0" width="15.0" height="5.0" fill="#ffef00"/>
<rect x="374.0" y="90.0" width="15.0" height="4.0" fill="#ffff00"/>
<rect x="374.0" y="94.0" width="15.0" height="7.0" fill="#efff10"/>
<rect x="374.0" y="101.0" width="15.0" height="7.0" fill="#dfff20"/>
<rect x="374.0" y="108.0" width="15.0" height="18.0" fill="#cfff30"/>
<rect x="374.0" y="126.0" width="15.0" height="31.0" fill="#bfff40"/>
<rect x="374.0" y="157.0" width="15.0" height="56.0" fill="#afff50"/>
<rect x="374.0" y="213.0" width="15.0" height="303.0" fill="#9fff60"/>
<rect x="389.0" y="36.0" width="15.0" height="8.0" fill="#cfff30"/>
<rect x="389.0" y="44.0" width="15.0" height="3.0" fill="#dfff20"/>
<rect x="389.0" y="47.0" width="15.0" height="2.0" fill="#efff10"/>
<rect x="389.0" y="49.0" width="15.0" height="3.0" fill="#ffff00"/>
<rect x="389.0" y="52.0" width="15.0" height="3.0" fill="#ffef00"/>
<rect x="389.0" y="55.0" width="15.0" height="2.0" fill="#ffdf00"/>
<rect x="389.0" y="57.0" width="15.0" height="3.0" fill="#ffcf00"/>
<rect x="389.0" y="60.0" width="15.0" height="2.0" fill="#ffbf00"/>
<rect x="389.0" y="62.0" width="15.0" height="4.0" fill="#ffaf00"/>
<rect x="389.0" y="66.0" width="15.0" height="10.0" fill="#ff9f00"/>
<rect x="389.0" y="76.0" width="15.0" height="2.0" fill="#ff8f00"/>
<rect x="389.0" y="78.0" width="15.0" height="2.0" fill="#ff9f00"/>
<rect x="389.0" y="80.0" width="15.0" height="2.0" fill="#ffaf00"/>
<rect x="389.0" y="82.0" width="15.0" height="2.0" fill="#ffbf00"/>
<rect x="389.0" y="84.0" width="15.0" height="3.0" fill="#ffcf00"/>
<rect x="389.0" y="87.0" width="15.0" height="2.0" fill="#ffdf00"/>
<rect x="389.0" y="89.0" width="15.0" height="2.0" fill="#ffef00"/>
<rect x="389.0" y="91.0" width="15.0" height="3.0" fill="#ffff00"/>
<rect x="389.0" y="94.0" width="15.0" height="3.0" fill="#efff10"/>
<rect x="389.0" y="97.0" width="15.0" height="11.0" fill="#dfff20"/>
<rect x="389.0" y="108.0" width="15.0" height="11.0" fill="#cfff30"/>
<rect x="389.0" y="119.0" width="15.0" height="23.0" fill="#bfff40"/>
<rect x="389.0" y="142.0" width="15.0" height="79.0" fill="#afff50"/>
<rect x="389.0" y="221.0" width="15.0" height="292.0" fill="#9fff60"/>
<rect x="404.0" y="36.0" width="15.0" height="9.0" fill="#dfff20"/>
<rect x="404.0" y="45.0" width="15.0" height="4.0" fill="#efff10"/>
<rect x="404.0" y="49.0" width="15.0" height="3.0" fill="#ffff00"/>
<rect x="404.0" y="52.0" width="15.0" height="4.0" fill="#ffef00"/>
<rect x="404.0" y="56.0" width="15.0" height="3.0" fill="#ffdf00"/>
<rect x="404.0" y="59.0" width="15.0" height="3.0" fill="#ffcf00"/>
<rect x="404.0" y="62.0" width="15.0" height="3.0" fill="#ffbf00"/>
<rect x="404.0" y="65.0" width="15.0" height="6.0" fill="#ffaf00"/>
<rect x="404.0" y="71.0" width="15.0" height="5.0" fill="#ffbf00"/>
<rect x="404.0" y="76.0" width="15.0" height="5.0" fill="#ffcf00"/>
<rect x="404.0" y="81.0" width="15.0" height="4.0" fill="#ffdf00"/>
<rect x="404.0" y="85.0" width="15.0" height="4.0" fill="#ffef00"/>
<rect x="404.0" y="89.0" width="15.0" height="4.0" fill="#ffff00"/>
<rect x="404.0" y="93.0" width="15.0" height="4.0" fill="#efff10"/>
<rect x="404.0" y="97.0" width="15.0" height="8.0" fill="#dfff20"/>
<rect x="404.0" y="105.0" width="15.0" height="18.0" fill="#cfff30"/>
<rect x="404.0" y="123.0" width="15.0" height="20.0" fill="#bfff40"/>
<rect x="404.0" y="143.0" width="15.0" height="90.0" fill="#afff50"/>
<rect x="404.0" y="233.0" width="15.0" height="280.0" fill="#9fff60"/>
<rect x="419.0" y="36.0" width="15.0" height="8.0" fill="#cfff30"/>
<rect x="419.0" y="44.0" width="15.0" height="2.0" fill="#dfff20"/>
<rect x="419.0" y="46.0" width="15.0" height="1.0" fill="#efff10"/>
<rect x="419.0" y="47.0" width="15.0" height="2.0" fill="#ffff00"/>
<rect x="419.0" y="49.0" width="15.0" height="2.0" fill="#ffef00"/>
<rect x="419.0" y="51.0" width="15.0" height="2.0" fill="#ffdf00"/>
<rect x="419.0" y="53.0" width="15.0" height="3.0" fill="#ffcf00"/>
<rect x="419.0" y="56.0" width="15.0" height="5.0" fill="#ffbf00"/>
<rect x="419.0" y="61.0" width="15.0" height="5.0" fill="#ffaf00"/>
<rect x="419.0" y="66.0" width="15.0" height="6.0" fill="#ff9f00"/>
<rect x="419.0" y="72.0" width="15.0" height="1.0" fill="#ff8f00"/>
<rect x="419.0" y="73.0" width="15.0" height="5.0" fill="#ff9f00"/>
<rect x="419.0" y="78.0" width="15.0" height="4.0" fill="#ffaf00"/>
<rect x="419.0" y="82.0" width="15.0" height="5.0" fill="#ffbf00"/>
<rect x="419.0" y="87.0" width="15.0" height="5.0" fill="#ffcf00"/>
<rect x="419.0" y="92.0" width="15.0" height="4.0" fill="#ffdf00"/>
<rect x="419.0" y="96.0" width="15.0" height="6.0" fill="#ffef00"/>
<rect x="419.0" y="102.0" width="15.0" height="6.0" fill="#ffff00"/>
<rect x="419.0" y="108.0" width="15.0" height="7.0" fill="#efff10"/>
<rect x="419.0" y="115.0" width="15.0" height="9.0" fill="#dfff20"/>
<rect x="419.0" y="124.0" width="15.0" height="15.0" fill="#cfff30"/>
<rect x="419.0" y="139.0" width="15.0" height="19.0" fill="#bfff40"/>
<rect x="419.0" y="158.0" width="15.0" height="77.0" fill="#afff50"/>
<rect x="419.0" y="235.0" width="15.0" height="195.0" fill="#9fff60"/>
<rect x="449.0" y="36.0" width="15.0" height="17.0" fill="#ffef00"/>
<rect x="449.0" y="53.0" width="15.0" height="1.0" fill="#ffdf00"/>
<rect x="449.0" y="54.0" width="15.0" height="1.0" fill="#ffcf00"/>
<rect x="449.0" y="55.0" width="15.0" height="1.0" fill="#ffbf00"/>
<rect x="449.0" y="56.0" width="15.0" height="1.0" fill="#ffaf00"/>
<rect x="449.0" y="57.0" width="15.0" height="20.0" fill="#ff9f00"/>
<rect x="449.0" y="77.0" width="15.0" height="3.0" fill="#ffaf00"/>
<rect x="449.0" y="80.0" width="15.0" height="3.0" fill="#ffbf00"/>
<rect x="449.0" y="83.0" width="15.0" height="4.0" fill="#ffcf00"/>
<rect x="449.0" y="87.0" width="15.0" height="3.0" fill="#ffdf00"/>
<rect x="449.0" y="90.0" width="15.0" height="3.0" fill="#ffef00"/>
<rect x="449.0" y="93.0" width="15.0" height="6.0" fill="#ffff00"/>
<rect x="449.0" y="99.0" width="15.0" height="7.0" fill="#efff10"/>
<rect x="449.0" y="106.0" width="15.0" height="11.0" fill="#dfff20"/>
<rect x="449.0" y="117.0" width="15.0" height="13.0" fill="#cfff30"/>
<rect x="449.0" y="130.0" width="15.0" height="18.0" fill="#bfff40"/>
<rect x="449.0" y="148.0" width="15.0" height="71.0" fill="#afff50"/>
<rect x="449.0" y="219.0" width="15.0" height="197.0" fill="#9fff60"/>
<rect x="464.0" y="36.0" width="15.0" height="14.0" fill="#8fff70"/>
<rect x="464.0" y="50.0" width="15.0" height="1.0" fill="#9fff60"/>
<rect x="464.0" y="51.0" width="15.0" height="1.0" fill="#cfff30"/>
<rect x="464.0" y="52.0" width="15.0" height="1.0" fill="#efff10"/>
<rect x="464.0" y="53.0" width="15.0" height="1.0" fill="#ffdf00"/>
<rect x="464.0" y="54.0" width="15.0" height="1.0" fill="#ffcf00"/>
<rect x="464.0" y="55.0" width="15.0" height="2.0" fill="#ffbf00"/>
<rect x="464.0" y="57.0" width="15.0" height="2.0" fill="#ffaf00"/>
<rect x="464.0" y="59.0" width="15.0" height="36.0" fill="#ff9f00"/>
<rect x="464.0" y="95.0" width="15.0" height="4.0" fill="#ffaf00"/>
<rect x="464.0" y="99.0" width="15.0" height="4.0" fill="#ffbf00"/>
<rect x="464.0" y="103.0" width="15.0" height="4.0" fill="#ffcf00"/>
<rect x="464.0" y="107.0" width="15.0" height="4.0" fill="#ffdf00"/>
<rect x="464.0" y="111.0" width="15.0" height="4.0" fill="#ffef00"/>
<rect x="464.0" y="115.0" width="15.0" height="8.0" fill="#ffff00"/>
<rect x="464.0" y="123.0" width="15.0" height="8.0" fill="#efff10"/>
<rect x="464.0" y="131.0" width="15.0" height="12.0" fill="#dfff20"/>
<rect x="464.0" y="143.0" width="15.0" height="17.0" fill="#cfff30"/>
<rect x="464.0" y="160.0" width="15.0" height="18.0" fill="#bfff40"/>
<rect x="464.0" y="178.0" width="15.0" height="49.0" fill="#afff50"/>
<rect x="464.0" y="227.0" width="15.0" height="285.0" fill="#9fff60"/>
<rect x="479.0" y="36.0" width="15.0" height="9.0" fill="#ff3000"/>
<rect x="479.0" y="45.0" width="15.0" height="1.0" fill="#ff4000"/>
<rect x="479.0" y="46.0" width="15.0" height="1.0" fill="#ff5000"/>
<rect x="479.0" y="47.0" width="15.0" height="1.0" fill="#ff6000"/>
<rect x="479.0" y="48.0" width="15.0" height="1.0" fill="#ff7000"/>
<rect x="479.0" y="49.0" width="15.0" height="1.0" fill="#ff8000"/>
<rect x="479.0" y="50.0" width="15.0" height="10.0" fill="#ff8f00"/>
<rect x="479.0" y="60.0" width="15.0" height="40.0" fill="#ff9f00"/>
<rect x="479.0" y="100.0" width="15.0" height="10.0" fill="#ffaf00"/>
<rect x="479.0" y="110.0" width="15.0" height="5.0" fill="#ffbf00"/>
<rect x="479.0" y="115.0" width="15.0" height="5.0" fill="#ffcf00"/>
<rect x="479.0" y="120.0" width="15.0" height="5.0" fill="#ffdf00"/>
<rect x="479.0" y="125.0" width="15.0" height="8.0" fill="#ffef00"/>
<rect x="479.0" y="133.0" width="15.0" height="8.0" fill="#ffff00"/>
<rect x="479.0" y="141.0" width="15.0" height="9.0" fill="#efff10"/>
<rect x="479.0" y="150.0" width="15.0" height="10.0" fill="#dfff20"/>
<rect x="479.0" y="160.0" width="15.0" height="13.0" fill="#cfff30"/>
<rect x="479.0" y="173.0" width="15.0" height="15.0" fill="#bfff40"/>
<rect x="479.0" y="188.0" width="15.0" height="53.0" fill="#afff50"/>
<rect x="479.0" y="241.0" width="15.0" height="275.0" fill="#9fff60"/>
<rect x="494.0" y="36.0" width="15.0" height="9.0" fill="#ff1000"/>
<rect x="494.0" y="45.0" width="15.0" height="2.0" fill="#ff0000"/>
<rect x="494.0" y="47.0" width="15.0" height="1.0" fill="#ef0000"/>
<rect x="494.0" y="48.0" width="15.0" height="2.0" fill="#df0000"/>
<rect x="494.0" y="50.0" width="15.0" height="3.0" fill="#cf0000"/>
<rect x="494.0" y="53.0" width="15.0" height="3.0" fill="#bf0000"/>
<rect x="494.0" y="56.0" width="15.0" height="34.0" fill="#af0000"/>
<rect x="494.0" y="90.0" width="15.0" height="3.0" fill="#bf0000"/>
<rect x="494.0" y="93.0" width="15.0" height="3.0" fill="#cf0000"/>
<rect x="494.0" y="96.0" width="15.0" height="3.0" fill="#df0000"/>
<rect x="494.0" y="99.0" width="15.0" height="3.0" fill="#ef0000"/>
<rect x="494.0" y="102.0" width="15.0" height="3.0" fill="#ff0000"/>
<rect x="494.0" y="105.0" width="15.0" height="3.0" fill="#ff1000"/>
<rect x="494.0" y="108.0" width="15.0" height="3.0" fill="#ff2000"/>
<rect x="494.0" y="111.0" width="15.0" height="3.0" fill="#ff3000"/>
<rect x="494.0" y="114.0" width="15.0" height="3.0" fill="#ff4000"/>
<rect x="494.0" y="117.0" width="15.0" height="2.0" fill="#ff5000"/>
<rect x="494.0" y="119.0" width="15.0" height="2.0" fill="#ff6000"/>
<rect x="494.0" y="121.0" width="15.0" height="2.0" fill="#ff7000"/>
<rect x="494.0" y="123.0" width="15.0" height="2.0" fill="#ff8000"/>
<rect x="494.0" y="125.0" width="15.0" height="2.0" fill="#ff8f00"/>
<rect x="494.0" y="127.0" width="15.0" height="1.0" fill="#ff9f00"/>
<rect x="494.0" y="128.0" width="15.0" height="2.0" fill="#ffaf00"/>
<rect x="494.0" y="130.0" width="15.0" height="2.0" fill="#ffbf00"/>
<rect x="494.0" y="132.0" width="15.0" height="4.0" fill="#ffcf00"/>
<rect x="494.0" y="136.0" width="15.0" height="4.0" fill="#ffdf00"/>
<rect x="494.0" y="140.0" width="15.0" height="4.0" fill="#ffef00"/>
<rect x="494.0" y="144.0" width="15.0" height="6.0" fill="#ffff00"/>
<rect x="494.0" y="150.0" width="15.0" height="6.0" fill="#efff10"/>
<rect x="494.0" y="156.0" width="15.0" height="10.0" fill="#dfff20"/>
<rect x="494.0" y="166.0" width="15.0" height="11.0" fill="#cfff30"/>
<rect x="494.0" y="177.0" width="15.0" height="21.0" fill="#bfff40"/>
<rect x="494.0" y="198.0" width="15.0" height="58.0" fill="#afff50"/>
<rect x="494.0" y="256.0" width="15.0" height="258.0" fill="#9fff60"/>
<rect x="509.0" y="36.0" width="15.0" height="13.0" fill="#ff0000"/>
<rect x="509.0" y="49.0" width="15.0" height="1.0" fill="#ef0000"/>
<rect x="509.0" y="50.0" width="15.0" height="1.0" fill="#df0000"/>
<rect x="509.0" y="51.0" width="15.0" height="1.0" fill="#cf0000"/>
<rect x="509.0" y="52.0" width="15.0" height="5.0" fill="#bf0000"/>
<rect x="509.0" y="57.0" width="15.0" height="8.0" fill="#af0000"/>
<rect x="509.0" y="65.0" width="15.0" height="4.0" fill="#bf0000"/>
<rect x="509.0" y="69.0" width="15.0" height="4.0" fill="#cf0000"/>
<rect x="509.0" y="73.0" width="15.0" height="3.0" fill="#df0000"/>
<rect x="509.0" y="76.0" width="15.0" height="3.0" fill="#ef0000"/>
<rect x="509.0" y="79.0" width="15.0" height="2.0" fill="#ff0000"/>
<rect x="509.0" y="81.0" width="15.0" height="1.0" fill="#ff1000"/>
<rect x="509.0" y="82.0" width="15.0" height="2.0" fill="#ff2000"/>
<rect x="509.0" y="84.0" width="15.0" height="2.0" fill="#ff3000"/>
<rect x="509.0" y="86.0" width="15.0" height="1.0" fill="#ff4000"/>
<rect x="509.0" y="87.0" width="15.0" height="2.0" fill="#ff5000"/>
<rect x="509.0" y="89.0" width="15.0" height="2.0" fill="#ff6000"/>
<rect x="509.0" y="91.0" width="15.0" height="1.0" fill="#ff7000"/>
<rect x="509.0" y="92.0" width="15.0" height="2.0" fill="#ff8000"/>
<rect x="509.0" y="94.0" width="15.0" height="13.0" fill="#ff8f00"/>
<rect x="509.0" y="107.0" width="15.0" height="23.0" fill="#ff9f00"/>
<rect x="509.0" y="130.0" width="15.0" height="8.0" fill="#ffaf00"/>
<rect x="509.0" y="138.0" width="15.0" height="8.0" fill="#ffbf00"/>
<rect x="509.0" y="146.0" width="15.0" height="7.0" fill="#ffcf00"/>
<rect x="509.0" y="153.0" width="15.0" height="4.0" fill="#ffdf00"/>
<rect x="509.0" y="157.0" width="15.0" height="6.0" fill="#ffef00"/>
<rect x="509.0" y="163.0" width="15.0" height="6.0" fill="#ffff00"/>
<rect x="509.0" y="169.0" width="15.0" height="6.0" fill="#efff10"/>
<rect x="509.0" y="175.0" width="15.0" height="9.0" fill="#dfff20"/>
<rect x="509.0" y="184.0" width="15.0" height="8.0" fill="#cfff30"/>
<rect x="509.0" y="192.0" width="15.0" height="20.0" fill="#bfff40"/>
<rect x="509.0" y="212.0" width="15.0" height="59.0" fill="#afff50"/>
<rect x="509.0" y="271.0" width="15.0" height="243.0" fill="#9fff60"/>
<rect x="524.0" y="36.0" width="15.0" height="4.0" fill="#ff3000"/>
<rect x="524.0" y="40.0" width="15.0" height="5.0" fill="#ff2000"/>
<rect x="524.0" y="45.0" width="15.0" height="1.0" fill="#ff1000"/>
<rect x="524.0" y="46.0" width="15.0" height="2.0" fill="#ff0000"/>
<rect x="524.0" y="48.0" width="15.0" height="1.0" fill="#ef0000"/>
<rect x="524.0" y="49.0" width="15.0" height="1.0" fill="#df0000"/>
<rect x="524.0" y="50.0" width="15.0" height="1.0" fill="#cf0000"/>
<rect x="524.0" y="51.0" width="15.0" height="1.0" fill="#bf0000"/>
<rect x="524.0" y="52.0" width="15.0" height="1.0" fill="#af0000"/>
<rect x="524.0" y="53.0" width="15.0" height="4.0" fill="#9f0000"/>
<rect x="524.0" y="57.0" width="15.0" height="5.0" fill="#8f0000"/>
<rect x="524.0" y="62.0" width="15.0" height="1.0" fill="#9f0000"/>
<rect x="524.0" y="63.0" width="15.0" height="2.0" fill="#af0000"/>
<rect x="524.0" y="65.0" width="15.0" height="4.0" fill="#bf0000"/>
<rect x="524.0" y="69.0" width="15.0" height="6.0" fill="#cf0000"/>
<rect x="524.0" y="75.0" width="15.0" height="65.0" fill="#df0000"/>
<rect x="524.0" y="140.0" width="15.0" height="4.0" fill="#ef0000"/>
<rect x="524.0" y="144.0" width="15.0" height="4.0" fill="#ff0000"/>
<rect x="524.0" y="148.0" width="15.0" height="5.0" fill="#ff1000"/>
<rect x="524.0" y="153.0" width="15.0" height="4.0" fill="#ff2000"/>
<rect x="524.0" y="157.0" width="15.0" height="6.0" fill="#ff3000"/>
<rect x="524.0" y="163.0" width="15.0" height="5.0" fill="#ff4000"/>
<rect x="524.0" y="168.0" width="15.0" height="5.0" fill="#ff5000"/>
<rect x="524.0" y="173.0" width="15.0" height="5.0" fill="#ff6000"/>
<rect x="524.0" y="178.0" width="15.0" height="5.0" fill="#ff7000"/>
<rect x="524.0" y="183.0" width="15.0" height="5.0" fill="#ff8000"/>
<rect x="524.0" y="188.0" width="15.0" height="5.0" fill="#ff8f00"/>
<rect x="524.0" y="193.0" width="15.0" height="4.0" fill="#ff9f00"/>
<rect x="524.0" y="197.0" width="15.0" height="4.0" fill="#ffaf00"/>
<rect x="524.0" y="201.0" width="15.0" height="4.0" fill="#ffbf00"/>
<rect x="524.0" y="205.0" width="15.0" height="4.0" fill="#ffcf00"/>
<rect x="524.0" y="209.0" width="15.0" height="4.0" fill="#ffdf00"/>
<rect x="524.0" y="213.0" width="15.0" height="4.0" fill="#ffef00"/>
<rect x="524.0" y="217.0" width="15.0" height="4.0" fill="#ffff00"/>
<rect x="524.0" y="221.0" width="15.0" height="8.0" fill="#efff10"/>
<rect x="524.0" y="229.0" width="15.0" height="11.0" fill="#dfff20"/>
<rect x="524.0" y="240.0" width="15.0" height="20.0" fill="#cfff30"/>
<rect x="524.0" y="260.0" width="15.0" height="61.0" fill="#bfff40"/>
<rect x="524.0" y="321.0" width="15.0" height="42.0" fill="#afff50"/>
<rect x="524.0" y="363.0" width="15.0" height="150.0" fill="#9fff60"/>
<rect x="539.0" y="36.0" width="15.0" height="12.0" fill="#ff6000"/>
<rect x="539.0" y="48.0" width="15.0" height="1.0" fill="#ff4000"/>
<rect x="539.0" y="49.0" width="15.0" height="1.0" fill="#ff2000"/>
<rect x="539.0" y="50.0" width="15.0" height="1.0" fill="#ef0000"/>
<rect x="539.0" y="51.0" width="15.0" height="1.0" fill="#cf0000"/>
<rect x="539.0" y="52.0" width="15.0" height="1.0" fill="#af0000"/>
<rect x="539.0" y="53.0" width="15.0" height="4.0" fill="#9f0000"/>
<rect x="539.0" y="57.0" width="15.0" height="5.0" fill="#8f0000"/>
<rect x="539.0" y="62.0" width="15.0" height="1.0" fill="#9f0000"/>
<rect x="539.0" y="63.0" width="15.0" height="2.0" fill="#af0000"/>
<rect x="539.0" y="65.0" width="15.0" height="4.0" fill="#bf0000"/>
<rect x="539.0" y="69.0" width="15.0" height="6.0" fill="#cf0000"/>
<rect x="539.0" y="75.0" width="15.0" height="71.0" fill="#df0000"/>
<rect x="539.0" y="146.0" width="15.0" height="17.0" fill="#ef0000"/>
<rect x="539.0" y="163.0" width="15.0" height="5.0" fill="#ff0000"/>
<rect x="539.0" y="168.0" width="15.0" height="4.0" fill="#ff1000"/>
<rect x="539.0" y="172.0" width="15.0" height="4.0" fill="#ff2000"/>
<rect x="539.0" y="176.0" width="15.0" height="4.0" fill="#ff3000"/>
<rect x="539.0" y="180.0" width="15.0" height="4.0" fill="#ff4000"/>
<rect x="539.0" y="184.0" width="15.0" height="3.0" fill="#ff5000"/>
<rect x="539.0" y="187.0" width="15.0" height="4.0" fill="#ff6000"/>
<rect x="539.0" y="191.0" width="15.0" height="3.0" fill="#ff7000"/>
<rect x="539.0" y="194.0" width="15.0" height="4.0" fill="#ff8000"/>
<rect x="539.0" y="198.0" width="15.0" height="3.0" fill="#ff8f00"/>
<rect x="539.0" y="201.0" width="15.0" height="3.0" fill="#ff9f00"/>
<rect x="539.0" y="204.0" width="15.0" height="3.0" fill="#ffaf00"/>
<rect x="539.0" y="207.0" width="15.0" height="3.0" fill="#ffbf00"/>
<rect x="539.0" y="210.0" width="15.0" height="3.0" fill="#ffcf00"/>
<rect x="539.0" y="213.0" width="15.0" height="6.0" fill="#ffdf00"/>
<rect x="539.0" y="219.0" width="15.0" height="7.0" fill="#ffef00"/>
<rect x="539.0" y="226.0" width="15.0" height="11.0" fill="#ffff00"/>
<rect x="539.0" y="237.0" width="15.0" height="13.0" fill="#efff10"/>
<rect x="539.0" y="250.0" width="15.0" height="13.0" fill="#dfff20"/>
<rect x="539.0" y="263.0" width="15.0" height="15.0" fill="#cfff30"/>
<rect x="539.0" y="278.0" width="15.0" height="22.0" fill="#bfff40"/>
<rect x="539.0" y="300.0" width="15.0" height="72.0" fill="#afff50"/>
<rect x="539.0" y="372.0" width="15.0" height="144.0" fill="#9fff60"/>
<rect x="254" y="36" width="15" height="2" fill="#fff"/>
</g>
<clipPath id="pc"><rect x="74" y="36" width="481" height="481"/></clipPath>
<g clip-path="url(#pc)">
<g fill="none" stroke="#000" stroke-width="1" shape-rendering="crispEdges">
<path d="M81.9 55.1 L103.5 54.6 L123.1 53.6 L138.8 52.0 L146.7 50.6 L150.6 45.7 L156.5 39.8 L160.4 36.5"/>
<path d="M81.9 60.5 L93.6 58.5 L121.0 57.5 L133.0 56.5 L148.7 55.5 L152.0 52.0 L150.0 48.0 L155.0 47.0 L162.0 56.0 L160.0 58.0"/>
<path d="M81.9 66.3 L92.4 63.8 L103.8 62.2 L117.2 62.8 L123.7 67.0 L134.0 67.0 L149.0 63.4 L160.0 59.0 L164.0 56.0 L166.0 50.0 L165.0 43.0"/>
<path d="M150.0 42.0 L152.0 40.0"/>
<path d="M154.0 44.0 L157.0 43.0"/>
<path d="M149.0 47.0 L151.0 49.0"/>
<path d="M158.0 49.0 L160.0 47.0"/>
<path d="M153.0 38.0 L155.0 37.0"/>
<path d="M135.3 36.5 L136.8 44.8 L138.7 47.3 L142.7 46.8 L143.6 41.9 L145.1 36.5"/>
<path d="M167.0 36.5 L167.3 43.9 L170.3 51.7 L171.2 59.6 L166.3 65.5 L162.4 71.4 L164.4 79.2 L170.3 87.1 L180.1 94.9 L188.0 98.9 L194.0 96.9 L201.7 89.0 L219.4 90.0 L229.2 94.0 L242.9 93.0 L260.6 88.1 L270.4 93.0 L276.3 99.8 L280.3 94.9 L286.2 89.0 L301.9 82.2 L305.8 80.8 L321.5 83.2 L337.2 80.2"/>
<path d="M81.9 110.7 L93.6 110.7 L101.5 112.6 L107.4 124.4 L103.5 136.2 L105.4 144.0 L93.6 148.8 L95.6 153.8 L99.5 159.6 L99.5 169.5 L101.5 177.3 L93.6 179.3 L81.9 177.3"/>
<path d="M119.2 123.4 L126.1 110.7 L133.0 118.5 L133.0 123.4 L119.2 123.4"/>
<path d="M81.9 187.2 L87.8 188.1 L89.7 193.0 L93.6 197.0 L101.5 196.0 L103.5 187.2 L109.4 182.2 L127.0 182.2 L123.1 177.3 L129.0 173.4 L124.1 169.5 L125.1 164.6 L142.8 163.6 L148.7 157.7 L142.8 149.8 L136.9 147.9 L136.9 138.2 L144.7 136.2 L152.6 132.3 L155.5 125.4 L158.5 134.2 L160.4 146.0 L158.5 159.6 L159.5 179.3 L160.4 187.2 L167.3 188.1 L166.3 190.1 L148.7 192.1 L136.9 195.0 L142.8 197.0 L152.6 198.9 L156.5 201.9 L160.4 198.9 L166.3 196.0 L172.2 189.1 L178.1 184.2 L186.0 180.3 L191.9 181.9 L198.4 188.4 L197.1 196.3 L194.5 201.5 L184.0 202.3 L172.2 202.9 L166.3 205.8 L168.3 208.8 L176.2 209.7 L184.0 210.7 L199.7 205.4 L212.8 197.6 L223.3 189.7 L224.6 181.9 L231.1 181.9 L233.7 185.8 L233.7 200.2 L237.7 209.4 L240.3 212.0 L236.4 215.9 L240.3 221.2 L246.8 219.8 L239.0 223.8 L246.8 226.4 L242.9 230.3 L246.8 234.2 L259.9 236.3 L273.0 236.3 L278.2 231.6 L286.1 227.7 L291.3 222.5 L293.9 226.4 L299.2 236.9 L304.4 244.7 L312.3 244.7 L316.2 239.5 L317.5 234.2 L325.4 232.9 L329.3 236.9 L330.6 244.7 L334.5 252.6 L336.5 259.1"/>
<path d="M178.0 41.0 L200.0 40.0 L224.0 39.3 L260.0 39.2 L284.0 39.5 L288.0 42.5 L320.0 42.5 L344.0 42.5"/>
<path d="M170.0 49.5 L196.0 49.5"/>
<path d="M174.0 52.2 L193.0 52.2"/>
<path d="M169.0 54.0 L188.0 54.0"/>
<path d="M184.0 52.7 L213.0 53.5 L240.0 53.0 L284.0 52.7 L305.0 54.0 L323.5 56.0 L337.0 57.6"/>
<path d="M224.0 55.0 L237.0 55.0"/>
<path d="M284.0 48.7 L292.0 49.0"/>
<path d="M291.0 43.0 L292.0 47.0"/>
<path d="M181.0 40.0 L184.0 39.0 L187.0 41.0"/>
<path d="M183.0 43.0 L186.0 42.0 L190.0 44.0 L194.0 43.0"/>
<path d="M196.0 39.0 L199.0 41.0 L202.0 40.0"/>
<path d="M188.0 46.0 L192.0 47.0 L196.0 46.0 L200.0 47.0"/>
<path d="M204.0 43.0 L207.0 42.0 L210.0 44.0 L212.0 46.0"/>
<path d="M198.0 44.0 L201.0 45.0"/>
<path d="M205.0 47.0 L209.0 48.0 L213.0 47.0"/>
<path d="M178.0 45.0 L181.0 47.0 L184.0 46.0"/>
<path d="M172.0 38.0 L170.0 42.0 L172.0 47.0"/>
<path d="M286.0 38.0 L290.0 37.0 L294.0 39.0"/>
<path d="M296.0 41.0 L300.0 38.0 L304.0 40.0"/>
<path d="M306.0 37.0 L310.0 39.0 L313.0 38.0"/>
<path d="M330.0 38.0 L333.0 40.0 L336.0 38.0 L340.0 41.0 L343.0 39.0"/>
<path d="M334.0 44.0 L336.0 48.0 L339.0 46.0"/>
<path d="M340.0 50.0 L343.0 52.0"/>
<path d="M367.0 38.0 L371.0 40.0 L375.0 38.0 L379.0 41.0"/>
<path d="M381.0 37.0 L384.0 40.0 L388.0 38.0 L392.0 41.0"/>
<path d="M370.0 42.0 L374.0 44.0 L378.0 43.0"/>
<path d="M383.0 44.0 L387.0 46.0 L391.0 45.0 L396.0 47.0"/>
<path d="M376.0 48.0 L380.0 50.0 L384.0 49.0 L388.0 52.0"/>
<path d="M385.0 53.0 L389.0 56.0 L393.0 54.0 L397.0 57.0"/>
<path d="M380.0 58.0 L384.0 60.0 L388.0 59.0 L392.0 62.0"/>
<path d="M386.0 64.0 L390.0 66.0"/>
<path d="M395.0 40.0 L398.0 43.0 L400.0 41.0"/>
<path d="M254.7 47.0 L266.5 47.0"/>
<path d="M366.0 62.0 L383.0 61.0"/>
<path d="M383.0 46.0 L401.0 46.5"/>
<path d="M383.0 47.0 L401.0 47.5"/>
<path d="M384.0 48.0 L398.0 48.0"/>
<path d="M366.0 49.0 L380.0 48.5"/>
<path d="M366.7 75.3 L372.6 77.3 L368.7 79.2 L378.5 80.2 L397.1 79.9 L406.9 75.0 L402.8 72.6 L408.5 70.9 L414.3 71.7 L415.1 74.2 L417.6 77.5 L426.6 84.0"/>
<path d="M456.0 87.3 L467.0 94.5 L481.4 93.6 L486.8 92.7 L492.2 118.8 L493.0 127.5 L501.8 135.4 L508.6 129.7 L516.3 121.0 L518.2 128.7 L521.1 153.7 L523.0 176.8 L525.0 192.2 L528.8 207.5 L535.5 211.4 L546.1 218.1"/>
<path d="M479.9 52.4 L491.0 53.0 L488.4 55.0 L489.0 70.0 L492.3 88.4 L495.6 104.0 L501.9 120.0 L508.6 107.5 L512.0 101.4 L513.3 89.7 L518.5 88.4 L519.8 94.9 L524.0 115.2 L526.3 144.0 L527.8 163.3 L529.8 180.6 L532.7 183.5 L546.1 183.5"/>
<path d="M493.6 53.0 L500.2 51.0 L518.5 49.1 L523.7 44.5 L534.2 44.5 L538.1 50.4 L545.3 52.4"/>
<path d="M495.0 53.0 L498.9 59.6 L494.9 68.7 L497.6 81.8 L501.5 100.1 L509.3 83.1 L513.3 72.6 L517.2 67.4 L522.4 71.3 L526.4 80.5 L527.7 87.0 L528.8 117.2 L530.7 146.0 L532.7 148.0 L546.1 148.9"/>
<path d="M456.2 219.2 L470.6 222.8 L476.0 228.2 L477.8 231.8 L481.4 238.1 L490.4 242.6 L494.4 245.9 L498.0 251.8 L501.5 254.2 L502.7 260.1 L509.8 266.1 L515.7 270.8 L519.3 282.7 L520.5 296.9 L521.7 304.0 L519.3 315.8 L521.7 334.8 L525.2 356.1 L528.8 362.0 L546.5 363.2"/>
<path d="M365.9 231.5 L373.3 230.7 L376.2 227.0 L379.9 213.7 L382.1 211.5 L385.9 213.0 L387.3 221.1 L392.5 224.8 L398.4 225.6 L402.9 219.6 L411.8 218.9 L417.7 219.6 L419.2 223.3 L421.4 226.3 L419.2 230.0 L413.3 233.0 L405.0 232.0 L401.4 231.5 L401.4 238.9 L410.3 242.6 L416.2 240.4 L419.2 235.9 L425.1 234.1"/>
<path d="M373.3 242.6 L383.6 240.4 L392.5 241.9 L393.3 248.5 L392.5 256.7 L398.4 259.6 L400.7 268.5 L398.4 274.4 L395.5 275.2 L388.1 271.5 L380.7 265.6 L377.7 261.1 L374.7 252.2 L373.3 243.3"/>
<path d="M407.0 177.0 L408.0 173.0 L411.0 171.0 L414.0 173.0 L415.0 177.0 L413.0 181.0 L409.0 181.0 L407.0 177.0"/>
<path d="M409.0 168.0 L411.0 166.0 L414.0 167.0 L414.0 171.0"/>
<path d="M479.0 51.6 L493.0 51.6"/>
<path d="M479.0 52.6 L493.0 52.6"/>
<path d="M149.0 51.0 L156.0 44.0 L163.0 37.0"/>
<path d="M152.0 55.0 L160.0 47.0 L164.0 43.0"/>
<path d="M141.0 52.0 L146.0 45.0 L149.0 40.0"/>
<path d="M157.0 40.0 L158.0 41.0"/>
<path d="M160.0 42.0 L161.0 43.0"/>
<path d="M154.0 44.0 L155.0 45.0"/>
<path d="M159.0 46.0 L160.0 47.0"/>
<path d="M162.0 49.0 L163.0 50.0"/>
<path d="M151.0 48.0 L152.0 49.0"/>
<path d="M169.5 39.0 L169.5 49.7"/>
<path d="M171.0 38.0 L175.0 37.0 L179.0 42.0"/>
<path d="M166.0 37.0 L166.0 56.0"/>
<path d="M440.0 56.0 L447.0 58.0"/>
<path d="M77.9 110.7h8M81.9 106.7v8M77.9 113.5h8M81.9 109.5v8M77.9 121.0h8M81.9 117.0v8M77.9 124.0h8M81.9 120.0v8M122.1 110.7h8M126.1 106.7v8M129.0 118.5h8M133.0 114.5v8M95.5 169.5h8M99.5 165.5v8M123.0 182.2h8M127.0 178.2v8M181.5 180.3h8M185.5 176.3v8M214.0 179.3h8M218.0 175.3v8M273.0 229.0h8M277.0 225.0v8M287.3 222.5h8M291.3 218.5v8M116.2 66.3h8M120.2 62.3v8M226.0 54.7h8M230.0 50.7v8M272.3 99.8h8M276.3 95.8v8M332.0 52.0h8M336.0 48.0v8M332.0 57.6h8M336.0 53.6v8M377.4 65.5h8M381.4 61.5v8M404.5 51.3h8M408.5 47.3v8M407.0 61.1h8M411.0 57.1v8M413.6 77.5h8M417.6 73.5v8M453.6 52.9h8M457.6 48.9v8M484.4 48.0h8M488.4 44.0v8M513.0 65.0h8M517.0 61.0v8M524.8 117.2h8M528.8 113.2v8M522.3 144.0h8M526.3 140.0v8M521.0 184.0h8M525.0 180.0v8M490.4 245.9h8M494.4 241.9v8M542.5 371.5h8M546.5 367.5v8M375.2 262.6h8M379.2 258.6v8M392.2 230.0h8M396.2 226.0v8M396.7 238.1h8M400.7 234.1v8"/>
</g>
<g class="lab">
<text x="85.8" y="110.7">35</text>
<text x="84.8" y="125.4">35</text>
<text x="127" y="108.7">35</text>
<text x="134.9" y="117.5">35</text>
<text x="101.5" y="166.5">35</text>
<text x="130" y="188.1">35</text>
<text x="185" y="172.5">35</text>
<text x="222" y="178">35</text>
<text x="277" y="231.6">35</text>
<text x="291.3" y="218.5">35</text>
<text x="123.1" y="61.5">35</text>
<text x="226.2" y="52.7">35.5</text>
<text x="279.3" y="94.9">35.5</text>
<text x="336.2" y="52.7">35.5</text>
<text x="367" y="44">35.5</text>
<text x="368" y="50">35.5</text>
<text x="411" y="48.7">35.5</text>
<text x="411" y="58.3">35.5</text>
<text x="384" y="57.6">35.5</text>
<text x="384" y="62.7">35.5</text>
<text x="418.4" y="76.6">35.5</text>
<text x="458" y="50.5">35</text>
<text x="467" y="45">35.5</text>
<text x="479" y="45">5</text>
<text x="470" y="50">35</text>
<text x="489.7" y="45.2">36.5</text>
<text x="519" y="62.8">36.5</text>
<text x="529.8" y="115.2">36.5</text>
<text x="525" y="142.2">36</text>
<text x="525" y="184.5">35.5</text>
<text x="494" y="243.5">35</text>
<text x="546" y="369">35</text>
<text x="379.2" y="259.6">35</text>
<text x="398.4" y="226.3">35</text>
<text x="402" y="235.2">35</text>
<text x="412" y="175">35</text>
</g>
</g>
<g stroke="#000" stroke-width="1" fill="none" shape-rendering="crispEdges">
<rect x="74.5" y="36.5" width="480" height="480"/>
<path d="M180.5 33v4"/><path d="M189.5 33v4"/><path d="M230.5 33v4"/><path d="M240.5 33v4"/><path d="M261.5 33v4"/><path d="M278.5 33v4"/><path d="M382.5 33v4"/>
<path d="M216.5 516v-5"/><path d="M366.5 516v-5"/><path d="M516.5 516v-5"/>
</g>
<g class="t12">
<text x="73.1" y="41.0" text-anchor="end" letter-spacing="1.1">0</text>
<text x="73.1" y="89.0" text-anchor="end" letter-spacing="1.1">200</text>
<text x="73.1" y="137.0" text-anchor="end" letter-spacing="1.1">400</text>
<text x="73.1" y="185.0" text-anchor="end" letter-spacing="1.1">600</text>
<text x="73.1" y="233.0" text-anchor="end" letter-spacing="1.1">800</text>
<text x="73.1" y="281.0" text-anchor="end" letter-spacing="1.1">1000</text>
<text x="73.1" y="329.0" text-anchor="end" letter-spacing="1.1">1200</text>
<text x="73.1" y="377.0" text-anchor="end" letter-spacing="1.1">1400</text>
<text x="73.1" y="425.0" text-anchor="end" letter-spacing="1.1">1600</text>
<text x="73.1" y="473.0" text-anchor="end" letter-spacing="1.1">1800</text>
<text x="73.1" y="521.0" text-anchor="end" letter-spacing="1.1">2000</text>
<text x="217" y="530.5" text-anchor="middle">10</text>
<text x="367" y="530.5" text-anchor="middle">20</text>
<text x="517" y="530.5" text-anchor="middle">30</text>
</g>
<text transform="translate(33.5 368.5) rotate(-90)" textLength="185.7" lengthAdjust="spacingAndGlyphs" style="font-size:14px;font-weight:bold;filter:url(#bin2)">Pressure / Pression (dbar)</text>
<text x="294.5" y="546.5" textLength="39.5" lengthAdjust="spacingAndGlyphs" class="b" style="font-size:16.5px">Cycle</text>
<g shape-rendering="crispEdges">
<rect x="569.5" y="508.50" width="20" height="7.80" fill="#00008f"/><rect x="569.5" y="501.00" width="20" height="7.80" fill="#00009f"/><rect x="569.5" y="493.50" width="20" height="7.80" fill="#0000af"/><rect x="569.5" y="486.00" width="20" height="7.80" fill="#0000bf"/><rect x="569.5" y="478.50" width="20" height="7.80" fill="#0000cf"/><rect x="569.5" y="471.00" width="20" height="7.80" fill="#0000df"/><rect x="569.5" y="463.50" width="20" height="7.80" fill="#0000ef"/><rect x="569.5" y="456.00" width="20" height="7.80" fill="#0000ff"/><rect x="569.5" y="448.50" width="20" height="7.80" fill="#0010ff"/><rect x="569.5" y="441.00" width="20" height="7.80" fill="#0020ff"/><rect x="569.5" y="433.50" width="20" height="7.80" fill="#0030ff"/><rect x="569.5" y="426.00" width="20" height="7.80" fill="#0040ff"/><rect x="569.5" y="418.50" width="20" height="7.80" fill="#0050ff"/><rect x="569.5" y="411.00" width="20" height="7.80" fill="#0060ff"/><rect x="569.5" y="403.50" width="20" height="7.80" fill="#0070ff"/><rect x="569.5" y="396.00" width="20" height="7.80" fill="#0080ff"/><rect x="569.5" y="388.50" width="20" height="7.80" fill="#008fff"/><rect x="569.5" y="381.00" width="20" height="7.80" fill="#009fff"/><rect x="569.5" y="373.50" width="20" height="7.80" fill="#00afff"/><rect x="569.5" y="366.00" width="20" height="7.80" fill="#00bfff"/><rect x="569.5" y="358.50" width="20" height="7.80" fill="#00cfff"/><rect x="569.5" y="351.00" width="20" height="7.80" fill="#00dfff"/><rect x="569.5" y="343.50" width="20" height="7.80" fill="#00efff"/><rect x="569.5" y="336.00" width="20" height="7.80" fill="#00ffff"/><rect x="569.5" y="328.50" width="20" height="7.80" fill="#10ffef"/><rect x="569.5" y="321.00" width="20" height="7.80" fill="#20ffdf"/><rect x="569.5" y="313.50" width="20" height="7.80" fill="#30ffcf"/><rect x="569.5" y="306.00" width="20" height="7.80" fill="#40ffbf"/><rect x="569.5" y="298.50" width="20" height="7.80" fill="#50ffaf"/><rect x="569.5" y="291.00" width="20" height="7.80" fill="#60ff9f"/><rect x="569.5" y="283.50" width="20" height="7.80" fill="#70ff8f"/><rect x="569.5" y="276.00" width="20" height="7.80" fill="#80ff80"/><rect x="569.5" y="268.50" width="20" height="7.80" fill="#8fff70"/><rect x="569.5" y="261.00" width="20" height="7.80" fill="#9fff60"/><rect x="569.5" y="253.50" width="20" height="7.80" fill="#afff50"/><rect x="569.5" y="246.00" width="20" height="7.80" fill="#bfff40"/><rect x="569.5" y="238.50" width="20" height="7.80" fill="#cfff30"/><rect x="569.5" y="231.00" width="20" height="7.80" fill="#dfff20"/><rect x="569.5" y="223.50" width="20" height="7.80" fill="#efff10"/><rect x="569.5" y="216.00" width="20" height="7.80" fill="#ffff00"/><rect x="569.5" y="208.50" width="20" height="7.80" fill="#ffef00"/><rect x="569.5" y="201.00" width="20" height="7.80" fill="#ffdf00"/><rect x="569.5" y="193.50" width="20" height="7.80" fill="#ffcf00"/><rect x="569.5" y="186.00" width="20" height="7.80" fill="#ffbf00"/><rect x="569.5" y="178.50" width="20" height="7.80" fill="#ffaf00"/><rect x="569.5" y="171.00" width="20" height="7.80" fill="#ff9f00"/><rect x="569.5" y="163.50" width="20" height="7.80" fill="#ff8f00"/><rect x="569.5" y="156.00" width="20" height="7.80" fill="#ff8000"/><rect x="569.5" y="148.50" width="20" height="7.80" fill="#ff7000"/><rect x="569.5" y="141.00" width="20" height="7.80" fill="#ff6000"/><rect x="569.5" y="133.50" width="20" height="7.80" fill="#ff5000"/><rect x="569.5" y="126.00" width="20" height="7.80" fill="#ff4000"/><rect x="569.5" y="118.50" width="20" height="7.80" fill="#ff3000"/><rect x="569.5" y="111.00" width="20" height="7.80" fill="#ff2000"/><rect x="569.5" y="103.50" width="20" height="7.80" fill="#ff1000"/><rect x="569.5" y="96.00" width="20" height="7.80" fill="#ff0000"/><rect x="569.5" y="88.50" width="20" height="7.80" fill="#ef0000"/><rect x="569.5" y="81.00" width="20" height="7.80" fill="#df0000"/><rect x="569.5" y="73.50" width="20" height="7.80" fill="#cf0000"/><rect x="569.5" y="66.00" width="20" height="7.80" fill="#bf0000"/><rect x="569.5" y="58.50" width="20" height="7.80" fill="#af0000"/><rect x="569.5" y="51.00" width="20" height="7.80" fill="#9f0000"/><rect x="569.5" y="43.50" width="20" height="7.80" fill="#8f0000"/><rect x="569.5" y="36.00" width="20" height="7.80" fill="#800000"/>
</g>
<rect x="569.5" y="36.5" width="20" height="479.5" fill="none" stroke="#000" stroke-width="1" shape-rendering="crispEdges"/>
<path d="M569 477.5h5M590 477.5h-5" stroke="#000" stroke-width="1" shape-rendering="crispEdges"/><text x="592" y="481.8" class="t12">33</text><path d="M569 422.5h5M590 422.5h-5" stroke="#000" stroke-width="1" shape-rendering="crispEdges"/><text x="592" y="426.8" class="t12">33.5</text><path d="M569 367.5h5M590 367.5h-5" stroke="#000" stroke-width="1" shape-rendering="crispEdges"/><text x="592" y="371.8" class="t12">34</text><path d="M569 312.5h5M590 312.5h-5" stroke="#000" stroke-width="1" shape-rendering="crispEdges"/><text x="592" y="316.8" class="t12">34.5</text><path d="M569 256.5h5M590 256.5h-5" stroke="#000" stroke-width="1" shape-rendering="crispEdges"/><text x="592" y="260.8" class="t12">35</text><path d="M569 201.5h5M590 201.5h-5" stroke="#000" stroke-width="1" shape-rendering="crispEdges"/><text x="592" y="205.8" class="t12">35.5</text><path d="M569 146.5h5M590 146.5h-5" stroke="#000" stroke-width="1" shape-rendering="crispEdges"/><text x="592" y="150.8" class="t12">36</text><path d="M569 91.5h5M590 91.5h-5" stroke="#000" stroke-width="1" shape-rendering="crispEdges"/><text x="592" y="95.8" class="t12">36.5</text>
<text x="571" y="27" class="t9">psu</text>

<text x="78.5" y="582" style="font-size:13.5px" class="b" textLength="157" lengthAdjust="spacingAndGlyphs">Float/Profileur dérivant:</text>
<text x="242.5" y="582" style="font-size:12.5px" textLength="54" lengthAdjust="spacingAndGlyphs">4902577</text>
<text x="78.5" y="601.5" style="font-size:13.5px" class="b" textLength="101.5" lengthAdjust="spacingAndGlyphs">Period/Période:</text>
<text x="188" y="601.5" style="font-size:12.5px" textLength="54.8" lengthAdjust="spacingAndGlyphs">4/3/2022</text>
<text x="251.5" y="601.5" style="font-size:12.5px" textLength="22.3" lengthAdjust="spacingAndGlyphs">to/à</text>
<text x="282.5" y="601.5" style="font-size:12.5px" textLength="61.5" lengthAdjust="spacingAndGlyphs">2/13/2023</text>
<text x="78.5" y="621" class="t9" style="font-size:9.5px;filter:url(#bin)" textLength="273" lengthAdjust="spacing">Tick marks at top indicate stations with delayed mode data</text>
<text x="78.5" y="641" class="t9" style="font-size:9.5px;filter:url(#bin)" textLength="296" lengthAdjust="spacing">Les traits de l'axe supérieur indiquent les données en mode différé</text>
<text x="453" y="660.5" class="t9" style="font-size:9.5px;filter:url(#bin)" textLength="101" lengthAdjust="spacing">ISDM | GDSI 02/20/23</text>

</svg>
</body></html>
